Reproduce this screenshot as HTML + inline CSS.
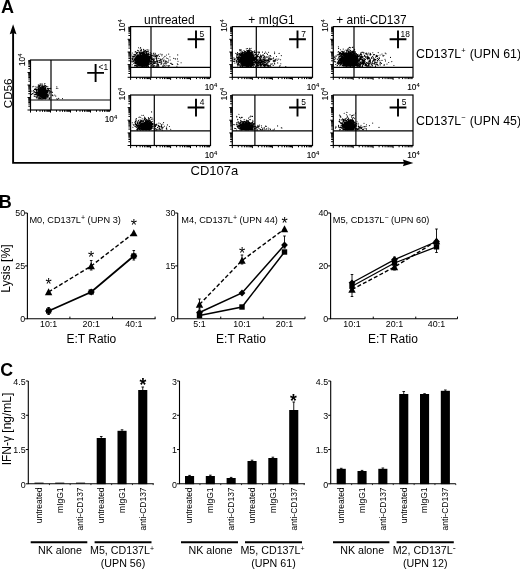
<!DOCTYPE html>
<html><head><meta charset="utf-8"><title>Figure</title>
<style>html,body{margin:0;padding:0;background:#fff}svg{display:block}svg text{font-family:"Liberation Sans",sans-serif}</style>
</head><body>
<svg width="520" height="570" viewBox="0 0 520 570" fill="#000">
<rect width="520" height="570" fill="#fff"/>
<text x="0.9" y="12.7" font-size="18" text-anchor="start" font-weight="bold" >A</text>
<path d="M13.1 33V162.9H404" stroke="#000" stroke-width="1.9" fill="none"/>
<path d="M13.1 24.3l3.4 10l-3.4 -1.2l-3.4 1.2z" fill="#000"/>
<path d="M413.4 162.9l-10.5 3.4l1.2 -3.4l-1.2 -3.4z" fill="#000"/>
<text transform="translate(11.8,93.3) rotate(-90)" font-size="11.6" text-anchor="middle" font-weight="normal">CD56</text>
<text x="190.5" y="175.1" font-size="13" text-anchor="start" font-weight="normal" >CD107a</text>
<rect x="30.5" y="60" width="80.0" height="50" fill="none" stroke="#000" stroke-width="1.2"/>
<path d="M51 60V110M30.5 100H110.5" stroke="#000" stroke-width="1.2" fill="none"/>
<path d="M30.5 110v2.6M30.5 110.0h-3.0M36.5 110v1.8M30.5 106.2h-2.2M40.0 110v1.8M30.5 104.0h-2.2M42.5 110v1.8M30.5 102.5h-2.2M44.5 110v1.8M30.5 101.3h-2.2M46.1 110v1.8M30.5 100.3h-2.2M47.4 110v1.8M30.5 99.4h-2.2M48.6 110v1.8M30.5 98.7h-2.2M49.6 110v1.8M30.5 98.1h-2.2M50.5 110v2.6M30.5 97.5h-3.0M56.5 110v1.8M30.5 93.7h-2.2M60.0 110v1.8M30.5 91.5h-2.2M62.5 110v1.8M30.5 90.0h-2.2M64.5 110v1.8M30.5 88.8h-2.2M66.1 110v1.8M30.5 87.8h-2.2M67.4 110v1.8M30.5 86.9h-2.2M68.6 110v1.8M30.5 86.2h-2.2M69.6 110v1.8M30.5 85.6h-2.2M70.5 110v2.6M30.5 85.0h-3.0M76.5 110v1.8M30.5 81.2h-2.2M80.0 110v1.8M30.5 79.0h-2.2M82.5 110v1.8M30.5 77.5h-2.2M84.5 110v1.8M30.5 76.3h-2.2M86.1 110v1.8M30.5 75.3h-2.2M87.4 110v1.8M30.5 74.4h-2.2M88.6 110v1.8M30.5 73.7h-2.2M89.6 110v1.8M30.5 73.1h-2.2M90.5 110v2.6M30.5 72.5h-3.0M96.5 110v1.8M30.5 68.7h-2.2M100.0 110v1.8M30.5 66.5h-2.2M102.5 110v1.8M30.5 65.0h-2.2M104.5 110v1.8M30.5 63.8h-2.2M106.1 110v1.8M30.5 62.8h-2.2M107.4 110v1.8M30.5 61.9h-2.2M108.6 110v1.8M30.5 61.2h-2.2M109.6 110v1.8M30.5 60.6h-2.2" stroke="#000" stroke-width="1" fill="none"/>
<path d="M38.4 93.8h.01M45.9 90.8h.01M38.0 92.4h.01M44.5 96.0h.01M38.5 88.0h.01M47.4 95.6h.01M50.3 91.6h.01M40.1 88.5h.01M46.2 93.2h.01M36.2 94.8h.01M37.7 92.0h.01M37.5 92.6h.01M40.2 93.3h.01M52.3 92.4h.01M45.5 87.9h.01M43.5 89.0h.01M44.8 89.7h.01M48.4 90.8h.01M45.8 90.4h.01M46.7 94.5h.01M47.7 91.3h.01M39.2 91.2h.01M44.8 97.3h.01M45.9 95.9h.01M45.3 94.8h.01M48.1 91.4h.01M40.5 98.7h.01M43.9 95.6h.01M45.6 88.5h.01M49.9 98.1h.01M43.6 89.4h.01M46.3 94.8h.01M43.4 96.8h.01M40.2 95.0h.01M46.3 91.6h.01M36.2 89.4h.01M47.5 89.0h.01M42.6 84.1h.01M45.4 98.2h.01M39.6 91.1h.01M43.8 98.6h.01M43.5 97.4h.01M42.9 98.3h.01M40.5 90.9h.01M45.2 97.0h.01M36.1 90.1h.01M40.8 90.7h.01M44.4 95.2h.01M37.9 97.6h.01M47.2 92.0h.01M41.3 88.2h.01M49.2 93.4h.01M40.2 83.9h.01M47.1 93.2h.01M36.9 93.2h.01M36.9 98.1h.01M34.9 92.1h.01M37.1 94.4h.01M34.9 89.4h.01M46.6 97.7h.01M38.6 87.1h.01M45.6 95.2h.01M39.4 90.1h.01M40.5 88.3h.01M40.5 96.5h.01M45.1 98.9h.01M39.4 92.2h.01M38.1 86.2h.01M45.1 97.0h.01M45.5 96.7h.01M38.9 86.5h.01M37.4 92.6h.01M47.1 93.2h.01M44.8 96.4h.01M40.0 85.6h.01M45.3 90.1h.01M46.8 93.6h.01M46.0 95.0h.01M35.1 94.8h.01M40.6 89.9h.01M41.5 95.0h.01M45.6 95.7h.01M36.7 90.5h.01M33.9 92.2h.01M44.9 89.9h.01M46.0 89.7h.01M40.0 89.9h.01M48.0 96.0h.01M38.3 90.3h.01M47.8 94.3h.01M40.1 89.0h.01M39.1 95.3h.01M34.0 91.6h.01M40.8 90.4h.01M43.5 96.1h.01M45.7 91.2h.01M38.7 88.1h.01M38.9 87.6h.01M46.2 93.7h.01M42.3 97.1h.01M40.6 94.9h.01M45.4 87.1h.01M37.1 89.3h.01M45.7 96.6h.01M38.4 95.8h.01M36.1 89.0h.01M38.4 94.1h.01M49.0 98.9h.01M36.5 91.1h.01M39.5 98.7h.01M44.8 90.0h.01M45.8 94.3h.01M36.9 90.7h.01M39.7 97.3h.01M37.0 92.0h.01M45.5 88.0h.01M46.2 91.2h.01M43.8 96.3h.01M41.6 97.4h.01M40.2 89.3h.01M45.2 88.8h.01M41.8 95.4h.01M46.5 86.3h.01M44.6 98.4h.01M46.5 91.7h.01M38.7 91.7h.01M46.5 91.8h.01M37.5 95.8h.01M39.0 91.0h.01M39.3 91.7h.01M49.2 90.4h.01M42.7 96.1h.01M45.3 95.0h.01M45.6 85.6h.01M39.8 93.0h.01M44.6 96.6h.01M41.9 89.7h.01M39.9 96.0h.01M46.7 95.7h.01M45.6 95.2h.01M39.1 91.9h.01M40.3 94.8h.01M44.3 96.8h.01M40.1 89.2h.01M45.5 88.6h.01M42.8 86.1h.01M39.7 99.0h.01M45.2 98.8h.01M47.6 92.5h.01M39.7 93.0h.01M41.2 88.1h.01M45.6 94.7h.01M43.4 89.4h.01M35.4 94.1h.01M42.8 86.6h.01M43.0 87.2h.01M43.7 88.5h.01M44.9 97.6h.01M33.2 93.8h.01M42.4 98.3h.01M36.8 93.8h.01M41.2 95.7h.01M39.1 92.2h.01M40.9 86.0h.01M44.5 95.7h.01M42.9 89.0h.01M47.1 88.6h.01M41.0 85.8h.01M40.5 90.0h.01M39.5 90.1h.01M48.2 91.9h.01M42.8 99.1h.01M36.4 93.8h.01M39.5 97.7h.01M38.3 90.5h.01M36.9 92.9h.01M39.2 92.4h.01M45.8 95.5h.01M43.4 89.4h.01M39.0 93.4h.01M49.8 91.0h.01M40.1 90.1h.01M38.9 89.1h.01M42.4 97.0h.01M36.9 93.3h.01M43.1 88.2h.01M39.0 92.4h.01M46.0 94.5h.01M49.2 88.6h.01M41.8 96.5h.01M42.2 97.0h.01M41.8 87.7h.01M39.4 98.6h.01M44.9 95.5h.01M44.8 95.8h.01M45.9 91.3h.01M38.0 91.8h.01M40.4 88.8h.01M41.9 97.4h.01M45.8 96.9h.01M36.8 96.8h.01M49.8 92.0h.01M48.6 95.6h.01M39.2 94.1h.01M34.1 91.4h.01M42.5 88.6h.01M48.2 91.7h.01M40.1 89.8h.01M37.8 94.2h.01M40.3 93.3h.01M39.7 90.8h.01M43.8 88.3h.01M50.0 92.5h.01M47.6 96.9h.01M44.0 87.7h.01M41.2 88.4h.01M38.6 89.8h.01M43.3 97.4h.01M39.2 93.7h.01M46.1 91.4h.01M42.8 96.6h.01M45.3 87.8h.01M41.5 89.7h.01M35.8 94.0h.01M38.1 92.9h.01M40.5 90.1h.01M39.7 86.5h.01M33.6 90.5h.01M46.3 92.4h.01M34.4 89.5h.01M44.4 97.8h.01M46.4 93.7h.01M43.7 88.8h.01M40.2 92.8h.01M47.2 94.9h.01M37.3 92.2h.01M44.7 89.0h.01M46.7 91.4h.01M38.3 99.0h.01M38.7 95.4h.01M40.1 91.1h.01M45.7 98.6h.01M39.9 92.6h.01M45.8 90.3h.01M45.2 89.8h.01M46.5 93.7h.01M38.5 94.7h.01M38.9 94.9h.01M47.4 94.4h.01M41.0 96.3h.01M43.7 88.1h.01M41.8 97.0h.01M41.9 86.6h.01M34.9 96.4h.01M45.2 95.8h.01M46.8 91.0h.01M47.8 86.6h.01M44.7 97.1h.01M42.0 88.2h.01M37.2 95.3h.01M41.2 94.7h.01M38.1 96.0h.01M37.6 95.9h.01M36.1 96.9h.01M41.7 87.0h.01M39.3 90.8h.01M31.9 91.1h.01M44.0 95.7h.01M40.5 98.4h.01M44.1 96.0h.01M40.8 95.8h.01M44.4 85.8h.01M38.9 94.0h.01M47.6 90.5h.01M45.3 95.0h.01M47.3 90.9h.01M46.4 94.0h.01M39.1 92.1h.01M49.0 95.0h.01M41.4 84.0h.01M40.3 90.1h.01M43.4 98.5h.01M44.1 89.3h.01M38.6 91.9h.01M41.4 98.8h.01M40.8 96.1h.01M43.4 88.2h.01M46.8 91.5h.01M38.0 93.6h.01M45.1 95.1h.01M39.8 85.2h.01M33.9 92.1h.01M46.6 95.7h.01M47.0 98.3h.01M43.2 95.9h.01M37.2 94.7h.01M41.5 88.6h.01M43.6 96.5h.01M39.3 93.8h.01M40.8 88.4h.01M41.9 95.8h.01M47.6 91.4h.01M45.4 94.9h.01M44.3 87.1h.01M44.1 89.1h.01M46.4 95.0h.01M44.9 83.5h.01M38.2 95.6h.01M40.4 89.0h.01M41.5 99.0h.01M40.8 90.6h.01M39.7 95.3h.01M42.1 95.3h.01M38.7 95.5h.01M42.8 89.4h.01M46.5 91.0h.01M42.6 89.4h.01M40.5 87.6h.01M44.4 95.4h.01M45.1 88.5h.01M45.8 90.8h.01M37.6 92.2h.01M43.7 86.0h.01M40.6 94.4h.01M38.3 95.4h.01M48.0 91.9h.01M40.3 88.5h.01M40.1 96.3h.01M36.3 92.2h.01M44.9 88.2h.01M45.8 97.0h.01M46.1 90.0h.01M40.4 95.5h.01M45.9 96.4h.01M46.5 92.2h.01M41.6 86.0h.01M45.4 98.7h.01M44.2 87.7h.01M40.4 88.7h.01M48.8 90.0h.01M45.6 98.5h.01M48.4 97.0h.01M47.7 88.2h.01M41.9 90.0h.01M42.1 97.5h.01M44.7 88.2h.01M46.9 96.6h.01M41.2 99.0h.01M43.4 96.6h.01M49.7 91.9h.01M41.4 90.0h.01M40.2 87.5h.01M39.4 95.4h.01M44.2 95.9h.01M44.9 95.0h.01M40.2 92.3h.01M40.0 91.3h.01M46.8 91.4h.01M39.3 93.2h.01M39.0 88.8h.01M43.4 86.6h.01M32.5 93.5h.01M36.7 89.4h.01M44.8 85.5h.01M39.8 88.3h.01M42.4 85.5h.01M34.9 92.1h.01M38.0 92.6h.01M39.9 91.5h.01M45.3 89.0h.01M43.1 97.1h.01M44.6 90.0h.01M44.2 97.8h.01M39.2 86.4h.01M37.0 95.2h.01M44.0 97.6h.01M35.5 89.5h.01M47.2 95.8h.01M45.6 95.3h.01M47.2 88.6h.01M40.3 94.3h.01M49.0 93.9h.01M41.6 96.0h.01M50.2 88.6h.01M40.7 98.7h.01M40.1 90.4h.01M43.5 96.9h.01M44.4 96.8h.01M45.2 98.5h.01M42.7 89.5h.01M47.7 88.4h.01M40.1 84.7h.01M39.7 87.2h.01M39.2 95.9h.01M46.0 89.4h.01M46.9 90.2h.01M42.3 97.0h.01M49.9 97.3h.01M38.8 94.0h.01M40.6 90.9h.01M43.2 98.2h.01M42.3 96.4h.01M45.5 98.7h.01M36.9 93.8h.01M36.5 97.3h.01M37.9 90.8h.01M39.6 96.1h.01M43.9 88.4h.01M35.7 92.4h.01M41.3 88.6h.01M36.9 94.5h.01M44.3 86.4h.01M43.5 96.2h.01M43.9 96.6h.01M38.1 89.4h.01M36.1 89.4h.01M46.4 93.0h.01M39.3 93.9h.01M42.6 98.1h.01M48.6 95.6h.01M38.8 90.7h.01M39.8 89.6h.01M42.7 96.7h.01M47.5 95.6h.01M45.5 96.6h.01M45.6 87.1h.01M45.8 93.8h.01M36.6 92.9h.01M37.0 94.0h.01M40.6 94.2h.01M52.2 94.8h.01M43.6 86.8h.01M40.5 91.7h.01M34.4 94.3h.01M40.9 94.7h.01M47.0 92.0h.01M39.9 96.6h.01M45.6 89.0h.01M45.5 90.0h.01M37.3 96.3h.01M38.2 96.3h.01M44.6 96.2h.01M43.9 96.0h.01M41.7 95.7h.01M47.4 92.4h.01M41.9 89.4h.01M36.3 97.0h.01M43.6 86.9h.01M41.5 95.3h.01M48.2 95.8h.01M40.2 97.3h.01M41.6 95.6h.01M42.3 87.4h.01M42.0 97.4h.01M40.0 94.3h.01M42.3 95.3h.01M47.1 93.3h.01M36.7 90.0h.01M39.0 85.6h.01M44.1 97.2h.01M38.3 84.9h.01M39.7 94.0h.01M41.0 95.8h.01M39.6 94.6h.01M45.2 96.6h.01M41.0 95.3h.01M45.3 95.9h.01M41.7 88.3h.01M40.3 94.5h.01M45.8 93.8h.01M46.2 93.8h.01M39.4 90.5h.01M46.0 89.7h.01M42.8 97.2h.01M44.4 95.8h.01M35.9 86.7h.01M39.9 95.7h.01M47.6 90.4h.01M39.4 89.0h.01M39.8 94.3h.01M42.0 98.3h.01M45.2 90.2h.01M45.4 95.4h.01M41.9 95.3h.01M46.7 92.6h.01M37.6 92.8h.01M38.0 91.1h.01M36.4 90.1h.01M38.6 97.9h.01M40.8 97.1h.01M41.2 87.5h.01M48.2 91.1h.01M45.3 96.2h.01M38.2 92.8h.01M41.0 94.5h.01M43.2 88.2h.01M46.7 95.5h.01M45.5 94.8h.01M43.6 88.5h.01M46.1 97.9h.01M43.1 96.3h.01M44.0 89.2h.01M42.5 89.5h.01M39.9 97.1h.01M46.1 87.0h.01M39.5 91.1h.01M41.7 87.8h.01M45.6 87.0h.01M35.2 88.2h.01M41.6 89.2h.01M40.5 90.0h.01M50.8 88.2h.01M47.4 94.1h.01M41.8 97.5h.01M38.9 91.5h.01M40.9 94.5h.01M44.8 86.1h.01M42.4 95.6h.01M38.3 88.5h.01M41.5 88.4h.01M41.0 90.6h.01M43.6 96.1h.01M32.1 93.7h.01M48.5 88.9h.01M39.5 96.3h.01M44.4 89.8h.01M38.7 91.2h.01M49.6 99.1h.01M33.8 86.3h.01M40.8 94.5h.01M43.9 88.8h.01M46.8 91.0h.01M46.3 94.7h.01M43.1 86.2h.01M37.1 87.4h.01M46.1 95.1h.01M37.3 94.0h.01M43.0 95.6h.01M40.4 93.2h.01M41.9 90.0h.01M44.9 89.0h.01M37.3 89.2h.01M46.2 90.8h.01M45.0 94.9h.01M41.3 94.9h.01M38.3 91.7h.01M45.6 96.2h.01M44.6 84.0h.01M48.7 90.0h.01M47.4 97.3h.01M34.1 96.0h.01M43.7 95.7h.01M42.3 97.2h.01M40.7 90.0h.01M37.1 87.6h.01M45.6 88.7h.01M38.2 92.5h.01M47.2 96.5h.01M41.6 88.9h.01M41.1 89.4h.01M39.1 89.8h.01M40.2 89.8h.01M38.8 89.9h.01M31.6 94.5h.01M39.8 91.7h.01M32.7 86.7h.01M49.1 98.5h.01M38.4 98.0h.01M40.4 93.7h.01M38.7 93.7h.01M43.1 95.9h.01M38.7 92.6h.01M48.2 88.4h.01M47.1 96.1h.01M38.8 92.9h.01M58.7 98.4h.01M56.8 86.8h.01M51.7 91.9h.01M52.3 95.5h.01M54.8 95.0h.01M56.4 88.3h.01M53.0 95.8h.01M57.4 99.2h.01M57.8 88.2h.01M62.5 98.6h.01M56.8 98.8h.01M55.8 96.1h.01" stroke="#000" stroke-width="1.1" stroke-linecap="round" fill="none" opacity="1"/>
<ellipse cx="43.2" cy="92.6" rx="3.6" ry="3.6" fill="#000" opacity="1.0"/>
<path d="M87.19999999999999 72.9h16.8M95.6 64.10000000000001v17.8" stroke="#000" stroke-width="1.9" fill="none"/>
<text x="98.5" y="70.2" font-size="8.4" text-anchor="start" font-weight="normal" >&lt;1</text>
<text x="104.7" y="122.2" font-size="8.3" stroke="#000" stroke-width="0.12">10<tspan font-size="5.8" dy="-3">4</tspan></text>
<text transform="translate(24.9,66.0) rotate(-90)" font-size="8.3" stroke="#000" stroke-width="0.12">10<tspan font-size="5.8" dy="-3">4</tspan></text>
<rect x="130.6" y="26.6" width="79.9" height="50.699999999999996" fill="none" stroke="#000" stroke-width="1.2"/>
<path d="M151 26.6V77.3M130.6 67.3H210.5" stroke="#000" stroke-width="1.2" fill="none"/>
<path d="M130.6 77.3v2.6M130.6 77.3h-3.0M136.6 77.3v1.8M130.6 73.5h-2.2M140.1 77.3v1.8M130.6 71.3h-2.2M142.6 77.3v1.8M130.6 69.7h-2.2M144.6 77.3v1.8M130.6 68.4h-2.2M146.1 77.3v1.8M130.6 67.4h-2.2M147.5 77.3v1.8M130.6 66.6h-2.2M148.6 77.3v1.8M130.6 65.9h-2.2M149.7 77.3v1.8M130.6 65.2h-2.2M150.6 77.3v2.6M130.6 64.6h-3.0M156.6 77.3v1.8M130.6 60.8h-2.2M160.1 77.3v1.8M130.6 58.6h-2.2M162.6 77.3v1.8M130.6 57.0h-2.2M164.5 77.3v1.8M130.6 55.8h-2.2M166.1 77.3v1.8M130.6 54.8h-2.2M167.5 77.3v1.8M130.6 53.9h-2.2M168.6 77.3v1.8M130.6 53.2h-2.2M169.6 77.3v1.8M130.6 52.5h-2.2M170.6 77.3v2.6M130.6 52.0h-3.0M176.6 77.3v1.8M130.6 48.1h-2.2M180.1 77.3v1.8M130.6 45.9h-2.2M182.6 77.3v1.8M130.6 44.3h-2.2M184.5 77.3v1.8M130.6 43.1h-2.2M186.1 77.3v1.8M130.6 42.1h-2.2M187.4 77.3v1.8M130.6 41.2h-2.2M188.6 77.3v1.8M130.6 40.5h-2.2M189.6 77.3v1.8M130.6 39.9h-2.2M190.5 77.3v2.6M130.6 39.3h-3.0M196.5 77.3v1.8M130.6 35.5h-2.2M200.1 77.3v1.8M130.6 33.2h-2.2M202.6 77.3v1.8M130.6 31.6h-2.2M204.5 77.3v1.8M130.6 30.4h-2.2M206.1 77.3v1.8M130.6 29.4h-2.2M207.4 77.3v1.8M130.6 28.6h-2.2M208.6 77.3v1.8M130.6 27.8h-2.2M209.6 77.3v1.8M130.6 27.2h-2.2" stroke="#000" stroke-width="1" fill="none"/>
<path d="M140.6 55.3h.01M138.5 60.9h.01M144.5 63.8h.01M145.0 64.6h.01M146.9 53.8h.01M146.0 56.4h.01M145.2 51.2h.01M149.7 58.2h.01M149.5 58.0h.01M138.8 62.6h.01M137.1 58.5h.01M144.6 51.4h.01M148.1 58.5h.01M135.3 56.0h.01M140.2 65.2h.01M147.3 62.3h.01M144.9 55.7h.01M139.6 65.9h.01M136.6 64.2h.01M137.8 66.0h.01M145.5 55.2h.01M138.5 47.8h.01M137.9 62.5h.01M145.2 66.3h.01M147.4 55.5h.01M138.1 59.7h.01M149.2 59.0h.01M135.5 62.4h.01M145.8 66.0h.01M143.9 66.1h.01M143.8 55.4h.01M142.0 64.0h.01M146.9 62.7h.01M146.8 56.0h.01M141.2 63.6h.01M142.3 55.6h.01M145.8 65.1h.01M134.4 59.3h.01M148.2 59.2h.01M136.1 61.9h.01M151.3 55.4h.01M136.4 62.9h.01M144.5 65.2h.01M148.0 57.8h.01M146.6 55.5h.01M135.5 63.6h.01M141.3 51.9h.01M144.8 65.5h.01M138.0 63.0h.01M143.2 52.1h.01M136.9 56.5h.01M145.3 56.1h.01M146.8 53.8h.01M138.7 61.8h.01M148.1 65.0h.01M139.8 65.1h.01M144.4 54.7h.01M148.4 61.7h.01M133.4 57.1h.01M148.2 57.4h.01M137.7 50.4h.01M138.7 60.9h.01M147.9 63.8h.01M140.4 55.8h.01M139.1 64.4h.01M146.5 53.0h.01M141.3 64.4h.01M147.9 58.9h.01M134.0 54.3h.01M143.5 55.0h.01M146.9 63.9h.01M145.9 56.1h.01M140.3 56.2h.01M139.7 56.2h.01M148.5 57.3h.01M141.7 65.2h.01M145.7 55.7h.01M146.9 55.2h.01M145.1 50.6h.01M138.8 62.7h.01M149.2 64.5h.01M144.4 55.6h.01M144.9 64.9h.01M137.3 65.5h.01M137.2 58.5h.01M139.3 64.6h.01M149.5 59.4h.01M141.4 63.7h.01M136.4 56.3h.01M137.7 55.4h.01M134.7 60.2h.01M139.8 65.7h.01M138.1 64.0h.01M138.2 63.5h.01M144.2 64.7h.01M148.2 59.0h.01M141.8 63.8h.01M144.1 64.5h.01M137.0 58.4h.01M138.7 58.3h.01M143.4 55.2h.01M147.6 65.5h.01M150.3 57.2h.01M148.1 53.2h.01M137.5 56.8h.01M138.5 56.5h.01M131.8 58.7h.01M148.8 53.1h.01M145.7 54.9h.01M137.3 59.2h.01M143.6 53.2h.01M145.7 50.3h.01M148.8 60.3h.01M142.8 63.9h.01M144.0 66.2h.01M143.6 64.4h.01M143.0 66.2h.01M142.3 54.4h.01M144.3 55.4h.01M148.1 62.3h.01M132.2 64.7h.01M145.5 64.9h.01M144.7 53.7h.01M139.1 64.5h.01M137.1 56.5h.01M135.0 60.7h.01M145.1 66.0h.01M150.5 57.7h.01M137.5 65.9h.01M146.5 63.7h.01M146.5 63.4h.01M147.1 55.9h.01M141.7 65.9h.01M146.1 55.2h.01M137.7 61.0h.01M148.4 63.1h.01M131.9 55.0h.01M146.1 66.3h.01M138.7 61.6h.01M149.0 54.5h.01M140.3 54.8h.01M139.3 55.9h.01M141.6 65.4h.01M141.5 49.3h.01M146.7 51.6h.01M147.5 57.1h.01M139.6 62.9h.01M145.3 54.6h.01M136.1 59.6h.01M150.3 56.0h.01M143.2 51.6h.01M139.6 55.6h.01M149.3 56.5h.01M136.2 66.2h.01M140.1 53.8h.01M141.3 53.4h.01M143.6 65.3h.01M148.1 53.7h.01M136.9 63.9h.01M140.6 64.1h.01M145.2 64.7h.01M145.2 64.2h.01M143.8 49.3h.01M147.0 55.2h.01M144.7 52.6h.01M133.4 56.1h.01M139.9 56.6h.01M138.8 54.6h.01M141.4 55.7h.01M145.1 64.0h.01M139.1 51.8h.01M138.2 66.1h.01M148.7 58.3h.01M138.1 59.2h.01M149.6 61.2h.01M138.3 58.9h.01M144.6 63.7h.01M139.9 62.8h.01M147.7 58.2h.01M137.0 61.7h.01M143.6 55.2h.01M136.5 53.2h.01M132.2 56.6h.01M148.4 59.3h.01M136.8 58.7h.01M138.5 58.2h.01M143.9 50.9h.01M138.7 62.1h.01M145.7 54.4h.01M140.0 55.5h.01M137.6 64.5h.01M143.6 65.7h.01M140.7 55.0h.01M143.7 55.6h.01M151.8 61.7h.01M149.7 56.1h.01M143.0 53.7h.01M149.0 58.8h.01M138.5 57.2h.01M148.5 55.9h.01M139.9 54.3h.01M148.1 65.2h.01M142.1 55.4h.01M132.3 56.8h.01M137.7 54.9h.01M148.8 50.0h.01M140.2 56.7h.01M147.6 63.0h.01M141.2 50.5h.01M149.4 62.1h.01M150.0 63.7h.01M135.5 56.0h.01M135.8 59.7h.01M137.3 59.7h.01M148.3 55.6h.01M132.2 59.1h.01M147.4 55.6h.01M147.2 63.4h.01M149.0 58.0h.01M140.2 48.8h.01M140.7 51.7h.01M138.5 56.1h.01M147.7 62.2h.01M136.8 61.3h.01M145.5 64.9h.01M135.7 59.8h.01M136.1 59.4h.01M135.1 61.0h.01M148.2 58.8h.01M143.8 53.6h.01M145.4 55.3h.01M147.7 64.5h.01M150.1 57.7h.01M146.2 53.6h.01M145.8 63.9h.01M140.2 64.5h.01M137.1 60.2h.01M148.4 64.4h.01M144.8 65.4h.01M145.7 55.2h.01M143.8 53.5h.01M150.7 54.0h.01M138.0 61.1h.01M143.9 64.6h.01M137.2 58.0h.01M139.1 56.7h.01M138.3 56.0h.01M138.6 58.3h.01M138.3 56.7h.01M145.0 55.7h.01M143.2 55.4h.01M133.9 59.9h.01M137.2 59.3h.01M145.4 63.8h.01M136.9 57.5h.01M136.9 59.7h.01M138.3 56.1h.01M145.8 64.4h.01M148.6 56.4h.01M133.3 56.5h.01M136.2 61.9h.01M138.3 57.2h.01M147.2 56.6h.01M137.6 57.4h.01M148.2 62.1h.01M137.5 66.1h.01M136.6 59.9h.01M141.7 65.3h.01M143.7 50.8h.01M138.6 60.7h.01M140.5 50.3h.01M145.9 63.9h.01M137.4 64.4h.01M138.1 63.2h.01M144.9 53.1h.01M137.7 61.4h.01M146.7 53.6h.01M148.1 65.3h.01M143.7 52.9h.01M144.6 55.4h.01M138.1 60.1h.01M136.0 65.4h.01M138.2 60.5h.01M146.7 56.2h.01M139.4 56.3h.01M142.4 55.6h.01M146.7 55.9h.01M135.3 57.2h.01M133.4 61.0h.01M146.3 63.0h.01M137.1 66.5h.01M149.2 59.4h.01M134.2 56.6h.01M146.7 66.3h.01M140.8 53.1h.01M138.8 65.8h.01M143.2 54.7h.01M133.7 61.8h.01M146.6 65.6h.01M132.8 59.5h.01M153.1 58.9h.01M140.1 54.0h.01M143.9 64.4h.01M134.9 57.0h.01M138.2 59.0h.01M131.7 61.1h.01M137.4 55.5h.01M132.7 61.1h.01M137.1 53.0h.01M142.8 54.4h.01M138.2 58.8h.01M136.8 62.8h.01M139.4 53.5h.01M138.8 55.4h.01M132.2 58.4h.01M148.7 57.1h.01M139.5 63.4h.01M147.7 55.5h.01M143.9 55.5h.01M139.0 65.4h.01M146.8 53.3h.01M143.0 53.4h.01M147.8 56.2h.01M146.0 54.9h.01M138.7 56.9h.01M144.2 54.7h.01M148.3 59.9h.01M144.6 63.8h.01M138.5 64.1h.01M139.1 64.3h.01M138.6 60.1h.01M150.1 61.0h.01M147.8 66.2h.01M146.6 63.9h.01M148.0 64.4h.01M138.7 63.4h.01M146.4 65.8h.01M135.6 57.8h.01M136.4 58.0h.01M138.6 57.7h.01M144.8 64.0h.01M146.9 55.7h.01M137.1 65.7h.01M134.9 55.4h.01M136.6 56.7h.01M135.4 55.9h.01M146.1 64.3h.01M148.7 60.8h.01M149.8 57.3h.01M142.2 55.6h.01M137.0 58.7h.01M137.3 63.2h.01M144.0 53.9h.01M150.2 54.6h.01M148.9 62.6h.01M138.9 63.8h.01M147.5 63.2h.01M144.3 63.9h.01M143.0 66.1h.01M136.4 60.0h.01M136.7 53.6h.01M141.0 56.1h.01M142.4 54.1h.01M137.8 61.2h.01M135.0 61.3h.01M139.3 63.0h.01M136.5 63.7h.01M143.3 65.2h.01M137.2 57.9h.01M139.2 57.4h.01M144.9 55.1h.01M142.1 66.4h.01M146.6 64.7h.01M143.5 53.1h.01M144.1 66.5h.01M143.6 64.3h.01M141.8 53.6h.01M138.7 61.1h.01M136.6 61.1h.01M149.1 57.3h.01M148.8 60.3h.01M143.9 64.8h.01M143.9 53.9h.01M146.0 52.2h.01M134.0 54.4h.01M145.9 55.2h.01M145.3 66.2h.01M143.4 64.9h.01M138.4 61.9h.01M138.5 62.2h.01M138.1 61.1h.01M144.2 55.3h.01M143.3 55.5h.01M144.9 53.1h.01M147.4 56.2h.01M141.0 56.2h.01M137.4 58.8h.01M135.0 58.7h.01M143.4 54.8h.01M135.2 55.2h.01M135.4 65.2h.01M146.6 63.9h.01M135.9 60.2h.01M140.0 65.9h.01M142.3 52.4h.01M147.7 62.2h.01M149.0 54.2h.01M142.3 64.4h.01M138.9 61.7h.01M137.7 61.5h.01M150.3 56.7h.01M148.4 56.1h.01M137.0 60.9h.01M144.6 64.7h.01M144.9 52.3h.01M151.7 57.8h.01M142.2 55.8h.01M143.1 53.6h.01M136.7 59.0h.01M140.4 63.8h.01M148.5 66.4h.01M151.0 57.6h.01M148.8 56.6h.01M146.8 54.3h.01M142.3 52.9h.01M148.1 61.7h.01M133.7 60.3h.01M140.3 55.0h.01M147.5 56.4h.01M140.9 55.7h.01M137.2 62.2h.01M147.4 57.0h.01M149.7 60.6h.01M137.6 56.1h.01M139.1 52.6h.01M140.2 55.5h.01M146.2 51.2h.01M147.1 49.6h.01M138.4 56.4h.01M146.2 56.0h.01M145.5 55.4h.01M146.6 54.8h.01M134.8 65.9h.01M146.4 54.0h.01M146.0 54.5h.01M150.8 61.1h.01M149.8 58.7h.01M146.9 57.0h.01M136.1 58.3h.01M137.5 63.2h.01M137.7 61.4h.01M134.6 65.2h.01M146.8 56.3h.01M138.9 65.3h.01M149.7 56.9h.01M142.8 64.0h.01M147.5 57.5h.01M147.6 64.8h.01M148.9 54.5h.01M143.1 65.6h.01M142.2 55.5h.01M149.0 59.8h.01M149.6 62.2h.01M144.9 55.9h.01M133.1 58.5h.01M142.0 54.2h.01M139.6 64.5h.01M141.1 66.2h.01M138.7 64.2h.01M151.6 59.9h.01M143.4 49.5h.01M138.5 56.5h.01M138.5 59.9h.01M135.7 65.5h.01M140.0 65.2h.01M140.0 53.5h.01M148.0 64.5h.01M138.1 58.7h.01M142.9 54.4h.01M148.5 62.2h.01M144.4 66.0h.01M145.0 55.2h.01M143.0 53.6h.01M149.3 59.9h.01M142.9 55.6h.01M132.5 58.9h.01M147.3 63.9h.01M143.8 65.1h.01M148.5 63.6h.01M135.7 51.7h.01M149.2 62.2h.01M147.9 61.8h.01M143.3 64.7h.01M146.2 56.6h.01M140.1 63.2h.01M144.6 55.5h.01M135.2 61.5h.01M146.3 66.0h.01M135.8 51.8h.01M135.9 60.6h.01M138.2 62.4h.01M143.0 53.2h.01M146.0 65.0h.01M141.8 65.1h.01M136.3 59.1h.01M147.7 64.1h.01M146.6 63.0h.01M136.5 61.9h.01M137.6 58.1h.01M137.8 62.5h.01M138.2 56.7h.01M138.2 61.8h.01M143.9 53.4h.01M145.9 63.7h.01M143.9 65.4h.01M141.4 63.9h.01M147.8 64.2h.01M148.6 59.4h.01M149.8 56.5h.01M134.6 54.7h.01M149.9 57.4h.01M141.1 64.2h.01M146.6 63.1h.01M146.3 65.2h.01M139.8 64.3h.01M132.3 53.0h.01M136.8 56.4h.01M141.8 55.2h.01M136.2 59.3h.01M143.8 53.4h.01M145.8 55.6h.01M138.1 57.3h.01M145.7 65.5h.01M136.1 58.5h.01M147.4 55.8h.01M148.4 61.7h.01M138.5 56.9h.01M140.8 54.4h.01M148.4 51.3h.01M137.0 56.4h.01M139.6 57.1h.01M136.1 62.9h.01M150.7 63.4h.01M142.7 64.2h.01M144.2 64.0h.01M137.1 60.5h.01M138.5 59.6h.01M137.1 56.8h.01M139.0 57.5h.01M138.2 63.8h.01M138.7 63.3h.01M140.6 47.6h.01M141.6 65.1h.01M146.7 66.4h.01M140.0 56.7h.01M134.7 62.1h.01M137.6 60.5h.01M144.4 55.1h.01M138.3 65.9h.01M141.2 52.8h.01M140.6 64.1h.01M135.4 60.5h.01M152.1 56.7h.01M148.4 54.7h.01M149.7 59.1h.01M149.8 56.4h.01M140.7 55.4h.01M141.6 64.7h.01M141.0 64.9h.01M134.5 60.0h.01M147.9 58.8h.01M145.9 56.0h.01M147.4 56.9h.01M136.3 59.6h.01M144.0 64.5h.01M136.8 56.7h.01M147.3 62.1h.01M146.2 63.6h.01M138.0 61.1h.01M140.8 53.2h.01M141.0 64.8h.01M138.0 58.3h.01M144.3 55.3h.01M134.7 58.6h.01M139.6 56.4h.01M142.6 55.0h.01M146.8 63.4h.01M137.7 62.7h.01M146.0 63.2h.01M145.0 66.2h.01M148.5 60.2h.01M143.9 65.2h.01M135.1 59.5h.01M138.9 57.1h.01M139.1 57.5h.01M139.4 56.3h.01M145.5 56.1h.01M150.2 52.6h.01M145.9 54.3h.01M141.2 55.5h.01M138.9 56.8h.01M140.2 52.7h.01M138.7 60.9h.01M138.1 55.3h.01M144.0 53.2h.01M141.4 50.2h.01M138.6 60.9h.01M138.1 58.3h.01M150.4 54.2h.01M149.9 60.6h.01M147.8 57.8h.01M146.0 53.6h.01M134.9 60.0h.01M141.7 64.3h.01M137.1 56.8h.01M133.9 63.4h.01M142.3 55.2h.01M134.1 54.5h.01M144.8 64.9h.01M137.1 54.7h.01M138.3 60.4h.01M139.7 63.1h.01M135.9 58.9h.01M135.3 63.7h.01M138.1 56.4h.01M141.1 66.3h.01M138.2 64.7h.01M143.6 66.2h.01M146.1 64.5h.01M146.5 56.3h.01M147.4 51.0h.01M147.1 63.4h.01M138.4 63.6h.01M134.8 62.7h.01M137.9 62.6h.01M147.8 52.0h.01M147.5 57.1h.01M150.8 58.2h.01M145.3 54.5h.01M147.8 54.2h.01M140.6 64.0h.01M138.0 56.3h.01M142.7 65.5h.01M144.3 54.6h.01M147.2 62.4h.01M142.6 66.4h.01M146.7 64.7h.01M136.2 58.2h.01M139.1 57.3h.01M145.5 63.8h.01M136.9 61.5h.01M147.5 63.3h.01M144.1 55.5h.01M151.3 61.6h.01M137.5 61.5h.01M137.7 62.3h.01M139.6 63.6h.01M138.3 61.5h.01M132.9 61.3h.01M138.6 60.9h.01M132.3 57.0h.01M136.4 57.7h.01M137.7 52.7h.01M139.3 57.0h.01M144.4 55.6h.01M145.6 55.2h.01M146.7 66.0h.01M137.9 59.7h.01M151.3 56.2h.01M145.0 63.9h.01M140.4 53.9h.01M139.4 64.4h.01M137.1 63.6h.01M148.5 56.1h.01M138.8 62.5h.01M138.2 60.0h.01M135.8 59.1h.01M139.7 65.3h.01M146.2 66.1h.01M142.9 54.6h.01M146.0 54.5h.01M132.7 59.6h.01M144.1 55.6h.01M137.2 52.4h.01M137.6 58.8h.01M150.1 61.9h.01M140.4 64.0h.01M144.1 53.1h.01M135.4 54.4h.01M145.8 56.0h.01M147.3 56.8h.01M142.0 65.0h.01M134.6 60.1h.01M149.1 60.0h.01M143.6 64.0h.01M139.8 63.4h.01M143.6 55.1h.01M148.6 61.0h.01M135.2 51.9h.01M141.4 65.3h.01M139.6 64.8h.01M139.4 56.6h.01M144.3 64.7h.01M138.4 61.1h.01M142.9 54.6h.01M144.1 66.2h.01M139.7 63.8h.01M148.2 62.7h.01M150.0 56.9h.01M144.0 55.5h.01M144.2 54.8h.01M149.1 64.1h.01M144.1 63.9h.01M136.5 55.8h.01M136.9 65.6h.01M132.1 62.0h.01M137.1 58.3h.01M148.2 60.6h.01M147.3 55.0h.01M141.0 63.7h.01M138.5 56.4h.01M149.0 63.1h.01M149.3 56.3h.01M135.1 59.8h.01M138.7 64.0h.01M147.2 63.1h.01M144.9 55.2h.01M147.7 56.6h.01M140.7 54.2h.01M139.6 52.2h.01M137.7 56.8h.01M137.9 58.4h.01M140.6 64.4h.01M144.4 64.0h.01M137.8 62.7h.01M138.7 50.7h.01M138.5 56.5h.01M137.9 59.7h.01M149.8 59.3h.01M135.6 62.1h.01M139.2 54.1h.01M146.4 52.3h.01M147.3 56.1h.01M135.1 55.8h.01M137.6 55.8h.01M148.0 56.2h.01M138.1 55.6h.01M148.3 58.2h.01M140.0 53.7h.01M135.2 58.4h.01M149.8 60.7h.01M144.1 53.9h.01M147.3 62.0h.01M144.3 55.3h.01M144.6 63.8h.01M136.4 52.7h.01M136.5 53.7h.01M146.4 62.9h.01M137.5 64.4h.01M138.2 56.9h.01M150.2 55.2h.01M144.1 64.6h.01M148.5 61.7h.01M136.9 58.3h.01M135.7 62.7h.01M135.6 62.0h.01M137.4 60.5h.01M145.8 55.0h.01M134.7 59.4h.01M146.5 53.6h.01M147.9 64.4h.01M146.2 65.2h.01M148.4 59.6h.01M151.6 58.5h.01M134.2 60.3h.01M149.3 59.7h.01M143.8 66.3h.01M151.2 61.3h.01M136.1 59.4h.01M137.7 55.4h.01M143.6 65.0h.01M139.1 54.2h.01M164.2 63.0h.01M160.0 60.7h.01M154.1 61.1h.01M151.4 66.0h.01M154.9 61.5h.01M152.5 66.3h.01M155.7 56.4h.01M157.4 64.1h.01M158.6 54.9h.01M157.3 55.4h.01M151.7 63.6h.01M162.6 58.9h.01M152.9 64.7h.01M171.8 64.2h.01M160.9 60.3h.01M155.4 54.9h.01M160.9 59.6h.01M158.8 65.8h.01M176.9 66.2h.01M156.9 60.5h.01M158.4 66.1h.01M154.3 54.9h.01M156.8 65.1h.01M152.9 59.6h.01M153.9 54.9h.01M177.3 63.7h.01M166.4 55.0h.01M154.8 65.3h.01M154.4 66.0h.01M151.9 55.4h.01M162.5 66.1h.01M151.4 59.5h.01M161.6 63.9h.01M169.6 65.7h.01M156.9 65.8h.01M157.7 56.1h.01M173.8 58.4h.01M159.7 62.0h.01M153.9 59.1h.01M164.9 56.4h.01M151.4 53.7h.01M163.7 64.1h.01M153.7 62.3h.01M160.2 59.1h.01M161.1 59.3h.01M168.7 65.6h.01M158.9 60.5h.01M160.8 60.8h.01M161.2 59.9h.01M154.5 59.1h.01M163.8 57.8h.01M158.9 66.3h.01M154.2 63.5h.01M157.5 62.8h.01M165.7 61.5h.01M156.0 66.5h.01M157.9 64.8h.01M169.9 56.8h.01M156.0 58.6h.01M172.7 64.5h.01M156.5 58.7h.01M158.3 64.4h.01M156.3 62.0h.01M166.4 58.0h.01M163.8 61.4h.01M151.2 61.8h.01M155.8 55.1h.01M168.7 54.1h.01M155.0 62.9h.01M160.4 62.3h.01M159.7 60.6h.01M165.7 60.7h.01M153.2 53.7h.01M175.4 58.9h.01M157.2 66.5h.01M155.2 56.8h.01M158.8 58.4h.01M152.4 64.7h.01M153.4 65.9h.01M153.9 53.1h.01M154.2 55.3h.01M151.4 58.5h.01M153.1 61.2h.01M153.8 61.2h.01M155.2 62.7h.01M158.0 65.2h.01M151.9 62.9h.01M170.4 63.2h.01M153.3 63.1h.01M156.6 61.8h.01M152.3 64.8h.01M163.7 65.7h.01M156.4 58.3h.01M153.7 56.1h.01M168.1 61.9h.01M170.2 60.0h.01M162.0 54.4h.01M153.2 60.9h.01M172.0 64.0h.01M154.2 56.7h.01M167.8 58.5h.01M153.7 66.4h.01M151.9 65.3h.01M155.5 61.7h.01M152.4 59.8h.01M159.4 62.5h.01M166.7 63.0h.01M166.2 63.0h.01M153.9 60.3h.01M161.8 63.1h.01M168.3 66.3h.01M168.6 60.0h.01M156.5 56.8h.01M160.2 54.0h.01M154.2 59.2h.01M167.9 62.5h.01M153.9 58.9h.01M161.9 55.7h.01M154.3 63.4h.01M159.4 56.5h.01M163.8 65.9h.01M171.2 63.3h.01M152.9 59.7h.01M164.2 65.2h.01M157.0 58.7h.01M155.2 63.4h.01M158.9 62.2h.01M152.5 61.9h.01M152.4 59.6h.01M177.4 58.9h.01M164.2 60.0h.01M153.1 63.9h.01M161.8 61.7h.01M153.8 62.8h.01M157.8 61.7h.01M153.2 65.3h.01M152.5 55.3h.01M164.9 63.2h.01M157.3 61.1h.01M161.3 61.9h.01M167.0 65.5h.01M156.3 57.2h.01M156.6 55.4h.01M156.7 57.2h.01M158.6 64.2h.01M165.6 62.1h.01M156.6 59.9h.01M177.7 54.9h.01M165.7 66.0h.01M163.3 66.3h.01M178.0 61.2h.01M166.6 61.2h.01M157.2 56.0h.01M157.2 66.1h.01M165.9 64.0h.01M152.1 58.5h.01M156.8 63.6h.01M163.3 60.2h.01M177.9 64.6h.01M155.4 53.3h.01M156.7 61.3h.01M154.2 62.5h.01M160.7 64.0h.01M181.1 62.8h.01M157.5 60.8h.01M158.1 65.0h.01M152.1 57.1h.01M151.4 58.9h.01M164.2 65.9h.01M154.9 61.3h.01" stroke="#000" stroke-width="1.1" stroke-linecap="round" fill="none" opacity="1"/>
<ellipse cx="143.3" cy="59.8" rx="5.6" ry="4.9" fill="#000" opacity="1.0"/>
<rect x="138.0" y="59.8" width="10.6" height="6.6" rx="1.5" fill="#000"/>
<path d="M187.6 39.2h16.8M196 30.400000000000002v17.8" stroke="#000" stroke-width="1.9" fill="none"/>
<text x="199.6" y="36.5" font-size="8.4" text-anchor="start" font-weight="normal" >5</text>
<text x="204.7" y="89.5" font-size="8.3" stroke="#000" stroke-width="0.12">10<tspan font-size="5.8" dy="-3">4</tspan></text>
<text transform="translate(125.0,31.8) rotate(-90)" font-size="8.3" stroke="#000" stroke-width="0.12">10<tspan font-size="5.8" dy="-3">4</tspan></text>
<rect x="232.3" y="26.6" width="80.19999999999999" height="50.699999999999996" fill="none" stroke="#000" stroke-width="1.2"/>
<path d="M256.3 26.6V77.3M232.3 67.3H312.5" stroke="#000" stroke-width="1.2" fill="none"/>
<path d="M232.3 77.3v2.6M232.3 77.3h-3.0M238.3 77.3v1.8M232.3 73.5h-2.2M241.9 77.3v1.8M232.3 71.3h-2.2M244.4 77.3v1.8M232.3 69.7h-2.2M246.3 77.3v1.8M232.3 68.4h-2.2M247.9 77.3v1.8M232.3 67.4h-2.2M249.2 77.3v1.8M232.3 66.6h-2.2M250.4 77.3v1.8M232.3 65.9h-2.2M251.4 77.3v1.8M232.3 65.2h-2.2M252.4 77.3v2.6M232.3 64.6h-3.0M258.4 77.3v1.8M232.3 60.8h-2.2M261.9 77.3v1.8M232.3 58.6h-2.2M264.4 77.3v1.8M232.3 57.0h-2.2M266.4 77.3v1.8M232.3 55.8h-2.2M268.0 77.3v1.8M232.3 54.8h-2.2M269.3 77.3v1.8M232.3 53.9h-2.2M270.5 77.3v1.8M232.3 53.2h-2.2M271.5 77.3v1.8M232.3 52.5h-2.2M272.4 77.3v2.6M232.3 52.0h-3.0M278.4 77.3v1.8M232.3 48.1h-2.2M282.0 77.3v1.8M232.3 45.9h-2.2M284.5 77.3v1.8M232.3 44.3h-2.2M286.4 77.3v1.8M232.3 43.1h-2.2M288.0 77.3v1.8M232.3 42.1h-2.2M289.3 77.3v1.8M232.3 41.2h-2.2M290.5 77.3v1.8M232.3 40.5h-2.2M291.5 77.3v1.8M232.3 39.9h-2.2M292.4 77.3v2.6M232.3 39.3h-3.0M298.5 77.3v1.8M232.3 35.5h-2.2M302.0 77.3v1.8M232.3 33.2h-2.2M304.5 77.3v1.8M232.3 31.6h-2.2M306.5 77.3v1.8M232.3 30.4h-2.2M308.1 77.3v1.8M232.3 29.4h-2.2M309.4 77.3v1.8M232.3 28.6h-2.2M310.6 77.3v1.8M232.3 27.8h-2.2M311.6 77.3v1.8M232.3 27.2h-2.2" stroke="#000" stroke-width="1" fill="none"/>
<path d="M252.1 53.0h.01M248.9 64.6h.01M243.7 63.4h.01M248.3 54.3h.01M244.5 51.6h.01M241.4 55.8h.01M241.5 58.3h.01M255.2 59.5h.01M248.9 51.1h.01M240.6 55.8h.01M249.6 52.5h.01M249.9 49.0h.01M241.9 55.9h.01M244.9 64.5h.01M242.6 62.4h.01M254.2 57.7h.01M242.6 57.7h.01M242.3 53.4h.01M239.7 62.2h.01M244.1 54.7h.01M251.9 62.4h.01M242.4 55.4h.01M241.1 56.2h.01M236.8 60.2h.01M243.9 54.8h.01M246.3 54.3h.01M242.0 58.2h.01M240.2 61.1h.01M242.8 58.1h.01M246.6 55.0h.01M252.4 57.0h.01M250.0 64.3h.01M253.2 54.6h.01M255.6 63.3h.01M250.8 63.1h.01M249.3 55.0h.01M255.0 52.5h.01M249.6 55.0h.01M251.3 54.8h.01M242.3 61.1h.01M255.5 61.4h.01M254.1 57.7h.01M248.4 53.3h.01M245.6 64.1h.01M238.6 62.1h.01M243.6 62.9h.01M246.3 54.8h.01M242.8 62.8h.01M241.3 54.1h.01M247.4 64.5h.01M242.1 61.2h.01M240.6 58.9h.01M250.6 55.2h.01M234.0 59.1h.01M246.6 55.0h.01M244.0 50.6h.01M254.6 59.0h.01M239.8 54.5h.01M253.2 60.5h.01M249.7 55.0h.01M243.6 63.1h.01M241.8 60.3h.01M253.4 58.1h.01M238.1 59.9h.01M247.9 52.9h.01M241.7 55.0h.01M245.8 55.2h.01M250.0 63.1h.01M242.2 63.5h.01M242.1 56.0h.01M256.6 58.4h.01M243.7 55.4h.01M249.1 64.1h.01M248.5 65.3h.01M246.9 65.8h.01M244.1 56.2h.01M247.4 53.9h.01M244.6 54.8h.01M243.7 64.3h.01M239.4 56.0h.01M249.5 63.6h.01M246.4 52.7h.01M238.8 58.4h.01M234.8 59.4h.01M254.5 64.6h.01M252.9 58.8h.01M243.0 62.6h.01M247.9 66.4h.01M251.7 55.3h.01M255.6 59.4h.01M247.0 64.1h.01M248.0 54.4h.01M239.7 64.7h.01M250.6 53.0h.01M256.7 56.0h.01M244.8 55.6h.01M251.4 64.5h.01M241.3 55.4h.01M240.4 64.0h.01M257.1 61.9h.01M252.9 62.8h.01M244.3 53.8h.01M238.6 63.2h.01M249.2 54.9h.01M243.1 63.6h.01M250.8 54.3h.01M246.2 55.1h.01M243.0 52.5h.01M241.0 62.3h.01M245.7 55.0h.01M248.1 54.9h.01M238.8 60.8h.01M254.4 59.9h.01M245.6 54.5h.01M238.7 62.6h.01M253.0 59.1h.01M245.2 53.8h.01M251.6 64.4h.01M238.8 63.6h.01M242.5 57.9h.01M241.9 64.1h.01M251.1 66.4h.01M253.1 53.6h.01M254.0 57.1h.01M252.4 60.4h.01M247.3 66.3h.01M249.7 63.8h.01M248.5 52.8h.01M236.6 61.1h.01M249.4 63.7h.01M248.3 53.2h.01M239.9 59.0h.01M241.8 66.3h.01M247.1 52.4h.01M237.2 57.2h.01M236.0 60.9h.01M236.5 62.1h.01M242.0 57.5h.01M251.2 53.1h.01M249.8 64.0h.01M253.2 64.1h.01M253.0 58.9h.01M250.1 64.2h.01M252.0 57.1h.01M253.6 57.5h.01M241.9 58.2h.01M249.7 54.0h.01M253.8 60.8h.01M248.2 63.9h.01M245.2 51.5h.01M239.3 60.0h.01M245.4 63.8h.01M242.0 59.2h.01M242.6 54.7h.01M254.8 52.6h.01M253.6 57.6h.01M244.1 53.0h.01M253.2 60.0h.01M240.9 57.1h.01M247.8 65.1h.01M247.2 53.7h.01M250.3 63.1h.01M246.3 64.1h.01M253.7 62.1h.01M243.4 63.0h.01M248.9 65.5h.01M251.5 63.4h.01M252.7 60.2h.01M250.1 54.6h.01M250.8 52.8h.01M246.2 66.3h.01M251.5 65.8h.01M248.9 64.2h.01M241.2 65.3h.01M242.4 57.6h.01M247.9 54.4h.01M249.1 54.1h.01M233.6 61.5h.01M239.9 60.5h.01M258.0 59.0h.01M242.9 54.4h.01M246.5 65.0h.01M241.2 57.1h.01M241.4 53.6h.01M244.3 55.1h.01M255.8 57.1h.01M245.1 54.1h.01M252.7 57.1h.01M249.1 64.9h.01M240.8 66.0h.01M252.4 57.6h.01M249.6 65.0h.01M250.2 64.4h.01M237.3 57.9h.01M240.6 62.0h.01M242.9 63.6h.01M256.4 59.8h.01M234.3 59.1h.01M247.9 54.3h.01M237.1 63.0h.01M245.2 54.5h.01M251.9 54.1h.01M245.8 63.6h.01M252.7 60.0h.01M240.7 52.8h.01M237.2 61.8h.01M240.9 58.9h.01M249.8 63.9h.01M242.1 60.2h.01M244.3 64.6h.01M248.8 65.2h.01M248.1 53.9h.01M250.6 50.2h.01M247.9 64.2h.01M247.9 51.5h.01M252.4 61.3h.01M242.9 63.3h.01M250.1 63.4h.01M237.7 54.2h.01M249.7 64.7h.01M251.5 52.5h.01M248.6 64.4h.01M239.7 50.7h.01M240.0 62.8h.01M239.8 49.6h.01M242.6 61.8h.01M243.3 54.2h.01M249.7 63.5h.01M243.5 64.4h.01M253.1 60.8h.01M251.3 65.0h.01M250.1 66.4h.01M247.8 54.6h.01M239.9 65.1h.01M254.3 55.1h.01M249.2 65.9h.01M250.8 55.4h.01M249.0 65.8h.01M254.8 65.1h.01M241.6 58.9h.01M250.2 55.3h.01M248.0 53.3h.01M237.7 57.2h.01M253.6 59.0h.01M242.1 59.0h.01M248.7 54.6h.01M248.2 65.0h.01M242.4 62.1h.01M253.9 61.7h.01M249.9 64.9h.01M236.6 61.8h.01M253.6 57.7h.01M241.9 52.8h.01M249.7 50.1h.01M245.5 55.3h.01M246.4 64.6h.01M242.1 56.3h.01M252.2 56.6h.01M241.8 53.6h.01M240.3 60.2h.01M244.4 65.3h.01M241.1 54.4h.01M253.5 56.3h.01M248.8 51.8h.01M252.9 52.7h.01M241.9 62.2h.01M255.6 59.9h.01M237.5 52.5h.01M248.4 64.7h.01M248.2 65.3h.01M241.5 59.8h.01M243.2 54.0h.01M255.5 54.4h.01M251.9 62.8h.01M249.9 53.0h.01M241.5 59.3h.01M247.5 54.2h.01M244.8 63.2h.01M243.1 61.7h.01M248.4 64.0h.01M244.6 55.0h.01M247.4 66.3h.01M251.1 66.4h.01M251.2 56.2h.01M247.1 54.4h.01M245.7 53.9h.01M251.6 50.9h.01M240.3 62.0h.01M252.1 65.3h.01M248.4 64.2h.01M242.8 56.8h.01M242.5 58.7h.01M241.6 59.9h.01M244.9 54.0h.01M240.0 66.0h.01M239.6 55.9h.01M242.7 55.2h.01M241.8 55.0h.01M238.8 61.4h.01M240.7 59.3h.01M247.5 52.9h.01M248.6 52.0h.01M234.4 59.8h.01M250.1 63.6h.01M233.9 57.7h.01M254.7 58.4h.01M256.5 59.5h.01M253.7 62.9h.01M243.5 56.7h.01M253.7 65.0h.01M251.6 56.0h.01M250.2 53.4h.01M250.5 64.7h.01M241.0 50.2h.01M242.5 58.8h.01M244.9 66.0h.01M250.9 64.2h.01M251.8 63.5h.01M248.5 54.7h.01M253.8 60.3h.01M246.3 54.9h.01M242.8 55.3h.01M236.8 53.8h.01M242.5 64.6h.01M249.0 50.0h.01M249.5 65.4h.01M240.9 59.8h.01M242.4 53.6h.01M241.7 56.8h.01M241.0 58.6h.01M240.6 55.5h.01M241.7 58.5h.01M238.3 60.9h.01M250.5 66.2h.01M250.3 52.5h.01M251.4 65.0h.01M252.9 55.6h.01M253.9 55.2h.01M242.7 64.1h.01M241.3 62.0h.01M249.4 63.5h.01M247.4 54.1h.01M242.3 57.2h.01M240.7 58.0h.01M254.5 52.6h.01M255.6 57.2h.01M252.5 60.8h.01M240.9 59.5h.01M244.7 63.3h.01M251.3 62.5h.01M255.5 58.4h.01M251.6 55.2h.01M242.5 57.0h.01M239.4 59.8h.01M253.6 58.7h.01M243.7 55.6h.01M241.1 59.5h.01M248.0 53.8h.01M255.3 57.9h.01M242.0 59.2h.01M249.5 51.1h.01M253.9 51.6h.01M244.2 63.1h.01M242.8 54.8h.01M242.3 59.4h.01M255.4 54.3h.01M253.3 60.3h.01M241.1 56.5h.01M244.1 62.7h.01M247.2 65.7h.01M243.1 61.5h.01M239.0 59.4h.01M242.7 56.0h.01M246.5 66.3h.01M250.6 54.8h.01M241.2 64.2h.01M242.2 63.4h.01M257.3 62.9h.01M258.0 62.3h.01M246.8 64.7h.01M247.6 63.7h.01M249.1 65.6h.01M242.0 54.3h.01M248.5 65.7h.01M242.5 53.7h.01M249.8 53.9h.01M242.3 57.0h.01M245.3 63.8h.01M243.3 54.0h.01M244.0 52.9h.01M253.5 57.4h.01M251.5 56.1h.01M241.5 56.9h.01M240.5 57.5h.01M240.9 63.4h.01M248.6 64.1h.01M254.7 55.0h.01M237.9 61.8h.01M242.4 54.7h.01M253.6 66.3h.01M255.0 57.1h.01M245.9 63.9h.01M240.8 60.6h.01M239.8 61.0h.01M251.7 64.4h.01M241.1 63.6h.01M243.6 64.6h.01M247.7 54.9h.01M246.6 66.2h.01M247.7 53.8h.01M251.6 66.3h.01M248.2 64.0h.01M244.5 65.7h.01M250.1 64.8h.01M251.0 64.7h.01M253.3 65.7h.01M245.6 64.9h.01M239.3 57.7h.01M241.9 52.8h.01M250.6 53.8h.01M240.1 66.2h.01M251.1 55.1h.01M245.6 64.4h.01M240.6 50.8h.01M247.5 51.3h.01M241.2 58.0h.01M250.6 63.3h.01M253.3 54.5h.01M245.1 52.6h.01M241.7 54.5h.01M248.6 64.0h.01M253.3 56.7h.01M245.5 54.6h.01M242.4 56.1h.01M253.7 58.2h.01M238.4 57.2h.01M257.1 59.9h.01M250.2 54.4h.01M244.0 54.0h.01M238.8 55.7h.01M254.0 61.7h.01M241.9 57.9h.01M252.0 56.3h.01M239.3 59.6h.01M252.6 54.0h.01M239.9 58.0h.01M246.6 66.4h.01M240.4 61.0h.01M256.1 52.5h.01M249.7 54.4h.01M247.1 54.6h.01M245.0 63.7h.01M246.6 53.5h.01M254.5 60.2h.01M242.6 61.8h.01M242.6 66.4h.01M242.3 59.9h.01M241.4 56.1h.01M250.5 63.2h.01M244.6 53.4h.01M242.0 62.6h.01M254.1 58.9h.01M244.8 55.3h.01M242.2 61.6h.01M253.2 59.9h.01M245.8 65.5h.01M251.1 48.3h.01M253.1 57.7h.01M256.7 57.7h.01M242.6 59.9h.01M239.0 56.9h.01M238.5 63.3h.01M237.0 54.8h.01M242.6 65.0h.01M246.7 53.2h.01M239.3 57.8h.01M250.4 55.7h.01M245.0 54.4h.01M246.2 53.1h.01M252.9 53.9h.01M254.3 60.9h.01M249.1 52.9h.01M247.3 51.7h.01M254.8 56.7h.01M249.8 52.6h.01M237.9 58.8h.01M249.8 65.7h.01M250.3 52.0h.01M253.4 62.4h.01M247.9 54.3h.01M252.3 57.3h.01M237.0 62.0h.01M252.6 59.8h.01M246.3 48.7h.01M246.0 51.5h.01M246.1 54.8h.01M250.4 53.3h.01M240.0 59.4h.01M244.3 55.4h.01M240.6 59.2h.01M247.3 64.0h.01M252.2 57.4h.01M238.4 64.1h.01M246.8 54.8h.01M248.3 66.2h.01M239.3 60.3h.01M253.0 59.8h.01M240.2 58.6h.01M245.0 55.5h.01M235.8 58.8h.01M239.4 61.1h.01M243.2 56.2h.01M242.6 61.8h.01M242.2 58.8h.01M255.1 62.5h.01M248.6 54.6h.01M243.4 63.3h.01M244.8 55.3h.01M234.9 63.1h.01M251.8 62.7h.01M253.3 59.4h.01M242.9 55.7h.01M254.0 57.9h.01M243.2 64.1h.01M250.8 63.3h.01M244.9 52.7h.01M250.3 65.9h.01M242.9 65.2h.01M240.1 58.5h.01M240.6 61.3h.01M255.2 60.0h.01M249.2 64.5h.01M243.1 61.5h.01M241.4 54.5h.01M251.0 63.6h.01M253.1 59.1h.01M242.0 59.1h.01M242.4 63.6h.01M243.9 64.7h.01M252.2 56.0h.01M249.2 54.1h.01M243.2 52.4h.01M244.9 64.6h.01M244.7 51.9h.01M241.0 55.0h.01M250.2 52.9h.01M236.7 60.7h.01M246.4 54.5h.01M238.4 60.9h.01M247.9 65.8h.01M247.9 64.5h.01M250.3 53.3h.01M239.0 62.5h.01M239.4 57.1h.01M248.0 51.7h.01M243.8 54.9h.01M244.2 54.5h.01M251.4 63.0h.01M255.0 62.4h.01M249.1 54.9h.01M241.5 62.3h.01M252.2 64.0h.01M244.4 63.2h.01M240.6 64.0h.01M252.7 60.7h.01M239.2 60.5h.01M250.7 62.7h.01M252.9 57.9h.01M241.7 53.3h.01M248.2 64.8h.01M245.2 54.4h.01M250.0 63.9h.01M253.2 59.3h.01M250.2 53.0h.01M241.5 60.7h.01M238.6 57.4h.01M236.8 54.3h.01M245.2 52.2h.01M241.1 64.1h.01M242.6 59.4h.01M241.4 59.6h.01M255.9 62.4h.01M250.1 65.1h.01M251.5 64.5h.01M250.5 63.1h.01M250.4 63.7h.01M241.5 66.0h.01M250.6 63.5h.01M241.5 62.0h.01M250.2 63.7h.01M244.0 63.6h.01M242.6 54.7h.01M239.8 53.3h.01M250.4 53.2h.01M251.2 55.4h.01M248.5 64.0h.01M243.4 56.1h.01M242.5 60.0h.01M249.4 53.8h.01M249.4 54.9h.01M248.5 66.4h.01M236.7 56.5h.01M242.9 61.0h.01M247.8 65.8h.01M239.8 58.1h.01M240.3 66.4h.01M239.2 53.9h.01M252.7 55.6h.01M251.5 62.2h.01M242.5 54.1h.01M242.8 61.5h.01M252.3 61.6h.01M253.5 59.4h.01M252.9 57.1h.01M242.5 60.3h.01M243.2 57.1h.01M244.4 64.1h.01M243.4 64.1h.01M243.3 64.2h.01M252.6 52.6h.01M249.4 52.9h.01M242.0 54.5h.01M241.4 61.3h.01M237.9 58.2h.01M237.2 59.4h.01M243.0 66.3h.01M251.6 56.6h.01M251.9 52.2h.01M242.7 52.5h.01M240.3 58.5h.01M240.3 60.9h.01M252.7 61.1h.01M246.1 54.0h.01M238.6 59.7h.01M242.3 55.8h.01M252.5 52.8h.01M242.0 51.4h.01M253.7 56.9h.01M251.7 55.5h.01M243.8 55.7h.01M244.0 63.5h.01M254.0 64.1h.01M249.1 65.5h.01M248.6 54.4h.01M251.4 52.2h.01M246.9 65.2h.01M242.9 56.0h.01M248.9 53.6h.01M239.7 61.9h.01M249.0 64.2h.01M252.6 62.3h.01M255.5 66.2h.01M238.2 57.1h.01M242.7 53.1h.01M246.8 66.4h.01M246.2 55.0h.01M250.9 53.0h.01M238.3 63.8h.01M238.4 56.8h.01M248.5 65.9h.01M244.7 65.1h.01M239.3 64.9h.01M246.9 54.6h.01M252.5 65.6h.01M240.4 57.3h.01M251.0 64.2h.01M240.7 59.1h.01M253.8 60.1h.01M242.6 56.1h.01M242.5 60.4h.01M241.9 61.6h.01M237.8 64.7h.01M249.3 64.7h.01M249.3 51.8h.01M242.2 56.8h.01M234.0 60.1h.01M244.8 63.0h.01M247.6 48.5h.01M251.0 53.8h.01M241.8 55.4h.01M251.8 54.3h.01M237.3 64.1h.01M244.1 64.9h.01M245.5 64.3h.01M254.7 50.9h.01M241.8 57.1h.01M250.9 64.9h.01M252.2 56.6h.01M241.9 59.8h.01M250.8 53.8h.01M244.5 54.9h.01M247.8 63.7h.01M248.7 64.4h.01M249.1 54.3h.01M257.2 55.6h.01M246.1 54.3h.01M254.4 63.0h.01M246.4 53.1h.01M240.7 61.1h.01M242.9 62.2h.01M245.4 54.6h.01M241.6 64.5h.01M252.7 58.1h.01M251.7 63.6h.01M250.4 65.2h.01M248.4 51.7h.01M241.4 56.9h.01M249.9 64.8h.01M238.6 62.5h.01M250.8 63.7h.01M240.2 65.8h.01M252.4 55.0h.01M252.0 65.4h.01M247.7 64.8h.01M241.7 56.5h.01M252.7 55.4h.01M239.8 60.5h.01M246.4 52.3h.01M252.5 51.6h.01M242.7 56.7h.01M241.2 58.0h.01M238.2 58.8h.01M235.6 53.3h.01M249.7 48.4h.01M249.9 63.9h.01M249.7 54.3h.01M251.3 52.6h.01M248.3 65.6h.01M246.8 65.7h.01M250.8 53.0h.01M238.7 65.1h.01M250.5 64.3h.01M253.7 62.8h.01M237.4 55.0h.01M255.0 59.1h.01M251.8 51.6h.01M241.5 62.4h.01M251.5 53.7h.01M240.1 55.1h.01M248.0 50.6h.01M253.4 55.0h.01M245.6 65.9h.01M236.8 57.2h.01M245.1 63.8h.01M240.7 61.5h.01M247.9 65.6h.01M246.1 63.9h.01M243.4 64.8h.01M250.9 54.7h.01M242.0 65.8h.01M256.9 63.2h.01M250.5 64.5h.01M240.6 54.1h.01M242.1 51.6h.01M253.8 62.9h.01M247.8 66.1h.01M248.4 54.9h.01M247.9 65.9h.01M250.8 63.1h.01M251.4 65.6h.01M243.0 61.9h.01M236.9 55.6h.01M238.8 57.9h.01M238.0 53.4h.01M248.9 54.7h.01M238.5 61.3h.01M241.0 49.5h.01M250.4 65.4h.01M241.4 59.1h.01M253.6 64.4h.01M243.4 62.3h.01M251.7 63.0h.01M241.7 59.6h.01M237.7 65.9h.01M243.5 65.1h.01M245.5 52.7h.01M252.1 62.4h.01M241.5 57.6h.01M241.2 58.6h.01M242.4 61.8h.01M249.8 51.2h.01M245.4 53.9h.01M251.5 64.5h.01M250.6 55.6h.01M252.7 63.0h.01M239.1 62.2h.01M250.0 64.8h.01M246.0 54.6h.01M249.3 52.8h.01M241.5 63.0h.01M251.1 63.0h.01M254.2 59.4h.01M252.7 62.9h.01M239.4 53.8h.01M250.9 64.4h.01M252.1 55.4h.01M256.8 62.1h.01M243.2 57.0h.01M244.3 54.9h.01M234.5 61.5h.01M244.1 63.1h.01M248.9 54.0h.01M240.5 59.4h.01M250.1 52.0h.01M243.4 54.9h.01M242.0 52.3h.01M244.0 62.4h.01M240.8 60.5h.01M236.6 57.7h.01M246.9 50.4h.01M251.4 52.8h.01M241.8 58.2h.01M251.9 62.5h.01M248.2 50.3h.01M250.0 64.1h.01M247.2 54.3h.01M241.8 59.6h.01M242.6 58.2h.01M246.6 63.7h.01M251.0 54.1h.01M238.9 54.6h.01M249.5 52.2h.01M251.5 65.1h.01M240.1 60.8h.01M254.5 61.1h.01M242.0 66.1h.01M253.0 59.4h.01M244.2 65.2h.01M263.0 54.7h.01M265.8 64.9h.01M270.7 64.1h.01M270.6 59.8h.01M263.8 65.2h.01M276.9 59.0h.01M260.6 64.8h.01M260.9 55.2h.01M269.7 61.0h.01M256.9 62.7h.01M267.4 62.9h.01M257.6 56.4h.01M269.0 65.6h.01M260.0 63.3h.01M263.4 65.6h.01M278.8 59.1h.01M258.9 61.3h.01M268.1 65.0h.01M257.8 66.2h.01M270.8 66.3h.01M259.1 65.0h.01M260.8 60.4h.01M279.4 66.1h.01M261.2 55.6h.01M267.1 60.0h.01M267.5 54.5h.01M262.4 63.9h.01M262.1 60.8h.01M267.3 64.8h.01M274.3 60.0h.01M259.9 64.4h.01M274.5 60.2h.01M259.6 59.8h.01M267.5 66.1h.01M266.1 65.6h.01M264.0 65.8h.01M256.7 63.1h.01M261.7 56.5h.01M263.9 63.5h.01M258.4 62.7h.01M267.7 60.9h.01M257.3 56.3h.01M256.7 57.8h.01M265.9 65.0h.01M261.0 62.3h.01M258.4 64.0h.01M271.7 58.9h.01M265.1 57.4h.01M264.8 60.2h.01M264.0 57.3h.01M264.3 58.7h.01M256.3 66.0h.01M267.2 61.1h.01M260.4 59.2h.01M260.2 63.6h.01M265.3 60.2h.01M264.0 63.5h.01M260.3 62.4h.01M256.5 60.5h.01M264.6 66.3h.01M261.3 60.2h.01M268.6 61.2h.01M264.3 56.1h.01M266.4 64.2h.01M259.3 61.7h.01M262.1 60.8h.01M258.5 56.5h.01M259.9 60.1h.01M281.3 55.6h.01M264.6 64.2h.01M274.7 63.9h.01M266.1 63.0h.01M256.7 66.5h.01M264.9 60.0h.01M256.9 60.9h.01M256.7 64.1h.01M256.6 59.9h.01M258.2 65.2h.01M263.4 61.2h.01M271.9 64.3h.01M261.2 62.3h.01M269.7 66.3h.01M259.4 60.1h.01M275.6 59.3h.01M260.4 65.5h.01M262.5 60.9h.01M264.8 62.2h.01M256.3 62.5h.01M262.1 61.9h.01M261.3 61.6h.01M261.7 56.9h.01M273.2 65.4h.01M259.6 63.5h.01M274.4 63.1h.01M268.6 62.7h.01M275.5 60.2h.01M270.8 56.3h.01M271.2 59.4h.01M260.4 66.2h.01M256.5 55.7h.01M277.2 60.2h.01M261.1 65.4h.01M257.2 57.1h.01M260.5 60.6h.01M265.0 65.4h.01M261.0 59.4h.01M269.5 61.1h.01M277.7 62.9h.01M259.0 65.8h.01M267.9 64.7h.01M257.2 59.9h.01M268.7 60.5h.01M257.9 52.1h.01M260.7 58.3h.01M265.8 61.6h.01M258.8 61.8h.01M265.5 62.7h.01M256.9 62.3h.01M266.9 59.2h.01M261.5 64.7h.01M259.8 63.3h.01M260.9 63.8h.01M267.4 65.3h.01M258.5 54.0h.01M268.4 59.7h.01M259.5 62.3h.01M262.7 63.4h.01M261.1 57.3h.01M270.5 55.6h.01M260.2 56.6h.01M267.9 57.1h.01M260.4 55.1h.01M258.0 64.0h.01M264.6 53.4h.01M256.5 58.4h.01M280.6 59.8h.01M269.9 58.1h.01M256.4 58.8h.01M263.4 59.1h.01M256.9 65.8h.01M264.6 61.0h.01M280.2 65.8h.01M263.1 54.7h.01M257.6 65.6h.01M266.9 65.0h.01M260.2 59.7h.01M265.6 52.0h.01M268.6 52.3h.01M261.2 66.0h.01M274.6 53.6h.01M268.7 58.5h.01M264.5 65.0h.01M259.7 64.5h.01M268.4 66.4h.01M269.3 55.8h.01M259.6 57.2h.01M266.2 60.6h.01M259.4 57.3h.01M272.1 63.6h.01M269.4 65.8h.01M270.3 58.6h.01M259.4 57.8h.01M266.8 56.9h.01M259.2 62.4h.01M257.0 61.9h.01M257.7 63.1h.01M259.5 61.1h.01M261.8 62.6h.01M263.3 62.9h.01M260.8 62.4h.01M264.7 58.7h.01M259.2 57.9h.01M261.0 57.9h.01M263.1 62.2h.01M285.8 66.5h.01M257.0 59.7h.01M258.5 63.3h.01M260.5 62.0h.01M265.4 58.9h.01M263.6 61.5h.01M265.8 66.3h.01M265.3 64.3h.01M263.3 57.8h.01M267.4 62.6h.01M256.3 57.4h.01M273.0 58.7h.01M257.9 64.7h.01M256.4 65.2h.01M261.6 64.8h.01M264.5 59.7h.01M264.4 64.5h.01M269.1 57.9h.01M261.8 56.7h.01M257.8 54.9h.01M274.0 60.4h.01M258.4 60.0h.01M261.8 61.3h.01M257.6 62.4h.01M263.7 57.3h.01M273.6 57.9h.01M258.7 52.1h.01M260.7 61.3h.01M269.2 61.7h.01M265.4 60.4h.01M261.1 63.3h.01M267.8 65.9h.01M263.5 59.9h.01M256.7 56.5h.01M257.6 62.4h.01M259.5 52.7h.01M262.5 52.1h.01M256.5 64.2h.01M265.0 56.7h.01M257.2 61.5h.01M263.9 65.8h.01M258.1 54.5h.01M264.0 59.9h.01M273.9 61.6h.01M264.6 61.0h.01M267.9 60.6h.01M264.1 62.7h.01M259.1 61.3h.01M266.0 61.8h.01M261.0 60.6h.01M257.5 56.4h.01M263.7 65.3h.01M269.0 56.1h.01M262.8 64.7h.01M264.0 63.9h.01M261.9 66.0h.01M273.2 60.9h.01M260.1 57.0h.01M259.0 61.0h.01M258.3 61.4h.01M264.8 64.9h.01M263.7 64.4h.01M257.5 60.5h.01M259.9 58.9h.01M269.7 59.4h.01M268.4 58.9h.01M256.4 62.7h.01M256.4 56.7h.01M261.0 65.8h.01M262.7 55.5h.01M275.0 61.4h.01M266.8 53.3h.01M263.4 55.2h.01M257.5 64.8h.01M264.1 59.3h.01M262.8 59.0h.01M280.8 63.8h.01M263.9 56.7h.01M266.2 61.1h.01M265.0 64.9h.01M263.9 60.3h.01M276.5 56.5h.01M265.9 66.3h.01M262.1 64.5h.01M267.0 63.4h.01M262.4 61.6h.01M270.3 65.6h.01M267.3 60.1h.01M262.1 59.7h.01M257.0 61.6h.01M258.2 66.1h.01M266.5 57.1h.01M259.3 60.7h.01M264.0 64.4h.01M264.2 66.5h.01M260.7 56.5h.01M264.6 62.1h.01M274.6 52.1h.01M257.4 65.5h.01M267.6 65.8h.01M259.3 52.1h.01M279.1 53.4h.01M264.2 62.8h.01M260.5 60.5h.01M263.4 62.9h.01M264.6 64.4h.01" stroke="#000" stroke-width="1.1" stroke-linecap="round" fill="none" opacity="1"/>
<ellipse cx="247.6" cy="59.3" rx="5.9" ry="5.2" fill="#000" opacity="1.0"/>
<rect x="242.0" y="59.3" width="11.2" height="7.1" rx="1.5" fill="#000"/>
<path d="M289.1 39.2h16.8M297.5 30.400000000000002v17.8" stroke="#000" stroke-width="1.9" fill="none"/>
<text x="301.3" y="36.5" font-size="8.4" text-anchor="start" font-weight="normal" >7</text>
<text x="306.7" y="89.5" font-size="8.3" stroke="#000" stroke-width="0.12">10<tspan font-size="5.8" dy="-3">4</tspan></text>
<text transform="translate(226.70000000000002,31.8) rotate(-90)" font-size="8.3" stroke="#000" stroke-width="0.12">10<tspan font-size="5.8" dy="-3">4</tspan></text>
<rect x="333.3" y="26.6" width="79.69999999999999" height="50.699999999999996" fill="none" stroke="#000" stroke-width="1.2"/>
<path d="M354 26.6V77.3M333.3 67.3H413" stroke="#000" stroke-width="1.2" fill="none"/>
<path d="M333.3 77.3v2.6M333.3 77.3h-3.0M339.3 77.3v1.8M333.3 73.5h-2.2M342.8 77.3v1.8M333.3 71.3h-2.2M345.3 77.3v1.8M333.3 69.7h-2.2M347.2 77.3v1.8M333.3 68.4h-2.2M348.8 77.3v1.8M333.3 67.4h-2.2M350.1 77.3v1.8M333.3 66.6h-2.2M351.3 77.3v1.8M333.3 65.9h-2.2M352.3 77.3v1.8M333.3 65.2h-2.2M353.2 77.3v2.6M333.3 64.6h-3.0M359.2 77.3v1.8M333.3 60.8h-2.2M362.7 77.3v1.8M333.3 58.6h-2.2M365.2 77.3v1.8M333.3 57.0h-2.2M367.2 77.3v1.8M333.3 55.8h-2.2M368.7 77.3v1.8M333.3 54.8h-2.2M370.1 77.3v1.8M333.3 53.9h-2.2M371.2 77.3v1.8M333.3 53.2h-2.2M372.2 77.3v1.8M333.3 52.5h-2.2M373.1 77.3v2.6M333.3 52.0h-3.0M379.1 77.3v1.8M333.3 48.1h-2.2M382.7 77.3v1.8M333.3 45.9h-2.2M385.1 77.3v1.8M333.3 44.3h-2.2M387.1 77.3v1.8M333.3 43.1h-2.2M388.7 77.3v1.8M333.3 42.1h-2.2M390.0 77.3v1.8M333.3 41.2h-2.2M391.1 77.3v1.8M333.3 40.5h-2.2M392.2 77.3v1.8M333.3 39.9h-2.2M393.1 77.3v2.6M333.3 39.3h-3.0M399.1 77.3v1.8M333.3 35.5h-2.2M402.6 77.3v1.8M333.3 33.2h-2.2M405.1 77.3v1.8M333.3 31.6h-2.2M407.0 77.3v1.8M333.3 30.4h-2.2M408.6 77.3v1.8M333.3 29.4h-2.2M409.9 77.3v1.8M333.3 28.6h-2.2M411.1 77.3v1.8M333.3 27.8h-2.2M412.1 77.3v1.8M333.3 27.2h-2.2" stroke="#000" stroke-width="1" fill="none"/>
<path d="M345.9 63.5h.01M353.8 65.5h.01M356.1 56.6h.01M353.7 61.8h.01M345.9 55.2h.01M347.8 53.6h.01M344.1 56.6h.01M339.3 55.0h.01M346.5 53.1h.01M354.9 58.5h.01M343.3 60.3h.01M339.5 61.0h.01M354.3 60.7h.01M341.6 51.3h.01M353.5 56.7h.01M352.9 56.4h.01M354.0 62.6h.01M344.2 61.2h.01M344.1 65.4h.01M346.8 55.2h.01M344.6 55.7h.01M347.2 51.0h.01M341.3 59.7h.01M353.8 66.3h.01M344.8 62.4h.01M339.9 58.1h.01M354.4 63.9h.01M343.1 56.3h.01M345.1 62.6h.01M343.5 54.8h.01M357.8 57.8h.01M358.7 56.6h.01M353.8 54.8h.01M355.0 61.2h.01M354.9 63.9h.01M339.7 61.0h.01M355.0 56.7h.01M354.3 52.9h.01M356.5 57.9h.01M343.4 62.0h.01M339.4 60.5h.01M341.2 55.1h.01M353.2 62.3h.01M341.1 63.1h.01M340.6 60.9h.01M356.6 59.5h.01M347.3 54.7h.01M350.9 65.7h.01M345.3 65.8h.01M344.4 61.8h.01M354.4 53.2h.01M334.8 61.7h.01M344.4 56.6h.01M356.2 58.6h.01M341.1 62.5h.01M351.8 52.5h.01M343.0 65.6h.01M353.9 54.9h.01M352.4 64.1h.01M358.2 66.2h.01M340.4 54.1h.01M337.1 63.7h.01M354.3 61.2h.01M342.3 58.4h.01M356.2 57.0h.01M341.4 56.8h.01M350.2 63.7h.01M350.0 54.5h.01M350.4 53.4h.01M352.0 55.7h.01M354.5 58.3h.01M340.3 58.8h.01M355.1 53.2h.01M353.3 62.3h.01M351.1 65.4h.01M356.9 61.1h.01M346.5 63.2h.01M344.8 62.0h.01M354.9 58.6h.01M348.2 53.9h.01M356.9 57.7h.01M355.8 62.4h.01M335.0 57.5h.01M355.4 57.6h.01M334.6 61.2h.01M354.8 60.5h.01M344.8 62.0h.01M345.9 53.8h.01M342.5 58.1h.01M350.8 50.8h.01M353.6 66.1h.01M348.1 48.2h.01M349.9 53.8h.01M344.2 51.1h.01M353.3 55.4h.01M345.3 53.1h.01M339.0 58.1h.01M352.6 66.3h.01M348.3 63.7h.01M354.3 62.2h.01M355.1 57.1h.01M352.4 63.7h.01M349.8 52.9h.01M344.0 52.0h.01M341.5 53.4h.01M355.4 57.8h.01M354.4 60.0h.01M346.6 55.4h.01M352.2 55.8h.01M346.5 51.3h.01M343.3 61.5h.01M347.7 64.4h.01M344.5 55.2h.01M340.0 58.3h.01M349.9 51.4h.01M357.1 54.5h.01M341.3 59.4h.01M349.3 54.9h.01M355.2 54.0h.01M353.5 65.8h.01M346.6 63.5h.01M340.2 59.8h.01M340.1 64.5h.01M345.5 65.4h.01M343.3 63.0h.01M341.5 60.8h.01M344.1 65.2h.01M342.1 60.8h.01M343.8 61.2h.01M351.4 63.3h.01M357.2 55.0h.01M349.6 65.3h.01M354.2 60.1h.01M341.9 62.5h.01M347.6 53.8h.01M341.9 62.0h.01M354.5 57.9h.01M350.8 53.7h.01M346.6 53.9h.01M353.6 57.1h.01M337.3 54.8h.01M343.8 56.8h.01M341.7 60.0h.01M340.6 55.6h.01M353.1 56.1h.01M350.2 64.9h.01M349.6 54.8h.01M343.8 58.6h.01M345.8 63.7h.01M343.2 61.9h.01M339.9 62.6h.01M353.3 55.1h.01M345.0 53.9h.01M354.9 55.7h.01M344.0 62.2h.01M349.6 52.4h.01M353.4 56.6h.01M353.1 54.8h.01M344.4 55.5h.01M346.4 53.8h.01M341.5 60.3h.01M343.0 52.7h.01M342.3 51.2h.01M347.5 53.5h.01M348.4 54.2h.01M353.7 56.1h.01M354.9 64.7h.01M353.0 62.2h.01M341.1 59.5h.01M345.9 63.6h.01M354.6 56.4h.01M341.8 53.4h.01M353.0 64.3h.01M346.6 64.3h.01M354.1 66.3h.01M342.4 65.1h.01M355.8 56.0h.01M344.3 55.8h.01M357.1 65.7h.01M350.8 65.7h.01M343.2 58.9h.01M341.8 64.0h.01M345.3 64.7h.01M339.5 52.6h.01M340.9 63.4h.01M343.5 58.9h.01M356.4 54.5h.01M339.1 54.1h.01M347.2 63.8h.01M356.0 57.9h.01M355.3 53.9h.01M355.3 55.3h.01M346.0 54.6h.01M343.6 63.9h.01M349.7 53.0h.01M343.9 61.1h.01M344.1 62.0h.01M350.8 65.0h.01M337.1 65.7h.01M354.5 54.0h.01M354.4 62.6h.01M347.0 63.3h.01M346.2 52.6h.01M355.3 59.8h.01M345.9 55.4h.01M345.0 65.3h.01M344.9 56.5h.01M356.8 61.4h.01M348.4 64.0h.01M340.2 53.7h.01M351.9 54.0h.01M348.2 64.0h.01M350.4 54.7h.01M354.6 61.1h.01M352.6 62.9h.01M351.9 54.9h.01M353.2 62.9h.01M351.1 54.2h.01M346.6 53.9h.01M353.3 62.4h.01M350.9 53.5h.01M345.3 63.3h.01M347.1 65.2h.01M351.8 64.6h.01M351.5 54.3h.01M354.6 65.5h.01M342.0 58.7h.01M350.6 66.5h.01M338.0 62.8h.01M343.1 57.4h.01M342.2 61.3h.01M356.1 60.3h.01M343.2 60.5h.01M340.8 56.3h.01M350.9 65.6h.01M354.0 56.4h.01M351.0 55.1h.01M345.8 62.8h.01M351.5 65.3h.01M354.9 60.8h.01M344.6 62.4h.01M352.8 64.3h.01M346.9 63.6h.01M338.3 60.9h.01M352.5 62.6h.01M343.2 51.7h.01M345.7 55.1h.01M340.6 65.0h.01M353.6 52.7h.01M352.3 47.5h.01M353.6 64.3h.01M355.3 54.8h.01M342.9 58.7h.01M351.1 55.0h.01M354.9 62.2h.01M342.1 55.6h.01M346.8 54.9h.01M343.7 64.0h.01M341.5 60.9h.01M343.2 57.9h.01M355.5 56.4h.01M350.6 55.1h.01M355.4 63.6h.01M354.4 56.4h.01M341.3 54.5h.01M341.5 63.2h.01M341.7 62.8h.01M355.3 51.8h.01M350.9 53.4h.01M352.4 52.6h.01M354.2 59.2h.01M355.0 56.0h.01M338.1 61.8h.01M343.7 66.1h.01M352.7 55.2h.01M339.6 54.0h.01M346.5 65.9h.01M354.1 51.9h.01M345.8 54.8h.01M343.3 57.4h.01M338.9 60.5h.01M353.5 63.8h.01M340.3 60.2h.01M355.3 61.6h.01M343.8 52.7h.01M352.3 55.1h.01M350.7 54.3h.01M356.1 60.1h.01M342.8 59.3h.01M349.4 49.7h.01M343.1 60.4h.01M354.2 63.4h.01M354.8 60.6h.01M341.2 60.0h.01M342.5 56.2h.01M343.0 56.1h.01M341.4 61.7h.01M343.6 59.0h.01M348.2 50.8h.01M356.0 65.4h.01M348.5 53.7h.01M354.1 57.5h.01M355.8 60.0h.01M340.4 60.8h.01M345.3 62.6h.01M357.2 60.6h.01M337.8 62.3h.01M353.1 54.7h.01M349.7 54.0h.01M343.7 60.1h.01M342.4 60.5h.01M355.5 63.3h.01M350.0 64.9h.01M345.1 52.7h.01M344.6 56.8h.01M343.8 58.1h.01M341.6 57.6h.01M347.2 66.2h.01M356.8 60.7h.01M358.4 55.8h.01M346.8 50.2h.01M343.8 58.1h.01M351.7 55.3h.01M343.3 57.9h.01M342.3 51.8h.01M352.0 65.0h.01M346.3 54.8h.01M351.8 63.4h.01M348.2 53.5h.01M342.9 61.0h.01M350.3 63.9h.01M345.7 64.0h.01M343.3 61.6h.01M347.4 53.2h.01M353.6 56.6h.01M342.1 63.0h.01M357.6 58.3h.01M349.0 54.1h.01M354.5 60.0h.01M349.8 53.6h.01M337.9 55.0h.01M356.6 60.4h.01M352.0 54.5h.01M343.6 59.6h.01M343.1 65.0h.01M353.9 63.3h.01M346.0 55.2h.01M335.7 61.9h.01M342.4 58.4h.01M352.9 55.7h.01M350.2 53.2h.01M353.9 63.3h.01M352.4 65.7h.01M342.6 56.1h.01M350.5 54.4h.01M341.8 62.3h.01M342.0 57.7h.01M353.3 63.3h.01M347.6 55.0h.01M354.2 50.9h.01M348.2 53.6h.01M340.6 63.2h.01M341.4 59.5h.01M340.5 53.3h.01M357.3 58.3h.01M357.1 64.1h.01M353.6 51.6h.01M354.9 59.6h.01M346.0 66.2h.01M343.5 58.1h.01M339.1 59.9h.01M353.8 52.7h.01M352.5 64.6h.01M352.6 54.7h.01M354.0 62.5h.01M349.6 54.7h.01M341.2 57.8h.01M351.6 64.0h.01M346.9 63.8h.01M342.0 61.1h.01M352.8 63.9h.01M344.8 55.6h.01M348.0 65.0h.01M357.3 61.5h.01M353.0 51.0h.01M344.2 61.1h.01M344.9 53.3h.01M355.2 61.7h.01M354.5 56.8h.01M355.5 55.0h.01M344.5 54.1h.01M353.1 55.9h.01M351.7 64.0h.01M350.4 65.4h.01M346.0 65.6h.01M341.8 61.4h.01M347.1 64.2h.01M342.6 62.5h.01M341.4 61.2h.01M340.4 49.7h.01M350.6 54.6h.01M345.8 62.8h.01M355.7 57.6h.01M343.1 57.8h.01M343.8 64.4h.01M343.3 63.8h.01M354.6 57.1h.01M341.0 57.8h.01M339.7 62.3h.01M349.0 54.2h.01M354.2 57.2h.01M350.3 54.4h.01M357.5 54.7h.01M344.9 63.4h.01M356.1 62.6h.01M343.2 57.6h.01M335.7 64.5h.01M349.6 54.3h.01M342.5 57.8h.01M345.9 50.0h.01M342.2 56.7h.01M338.4 61.9h.01M344.4 56.2h.01M349.0 63.8h.01M352.6 51.7h.01M343.4 60.8h.01M351.7 54.8h.01M348.3 53.3h.01M346.7 52.8h.01M343.9 53.7h.01M344.6 55.7h.01M354.1 61.7h.01M350.0 54.5h.01M340.7 56.4h.01M342.3 56.2h.01M339.6 65.7h.01M346.3 55.3h.01M344.7 55.3h.01M352.9 55.7h.01M336.4 56.1h.01M350.8 54.7h.01M348.4 63.7h.01M351.9 54.6h.01M347.0 65.8h.01M341.7 60.8h.01M349.8 64.9h.01M344.5 63.5h.01M346.3 54.2h.01M355.0 64.4h.01M355.0 60.2h.01M346.8 54.7h.01M350.7 65.4h.01M350.5 65.2h.01M340.4 60.2h.01M343.6 55.4h.01M345.7 53.6h.01M352.0 55.1h.01M344.5 54.8h.01M348.9 53.8h.01M348.3 53.6h.01M346.8 65.3h.01M356.2 63.2h.01M344.7 62.6h.01M342.6 52.9h.01M353.0 55.4h.01M348.8 63.7h.01M350.9 65.5h.01M352.1 51.4h.01M342.3 54.5h.01M348.8 63.9h.01M344.9 63.8h.01M353.0 62.5h.01M355.5 57.9h.01M346.8 54.2h.01M353.4 55.5h.01M343.5 54.2h.01M343.1 61.6h.01M349.8 53.0h.01M350.3 55.1h.01M340.3 64.0h.01M358.2 56.5h.01M353.7 55.2h.01M349.6 66.0h.01M356.9 55.0h.01M356.0 62.1h.01M348.4 54.1h.01M338.5 64.3h.01M339.2 61.2h.01M344.6 53.3h.01M348.8 65.3h.01M354.1 61.6h.01M358.1 58.0h.01M343.2 60.9h.01M342.4 56.3h.01M350.1 64.1h.01M347.1 54.0h.01M341.2 58.9h.01M341.6 62.3h.01M348.1 51.2h.01M342.0 60.9h.01M354.8 57.4h.01M354.9 55.3h.01M343.1 62.1h.01M348.5 65.3h.01M354.3 64.3h.01M344.7 62.2h.01M347.8 63.6h.01M342.1 65.7h.01M350.7 64.0h.01M344.4 53.7h.01M350.8 64.4h.01M348.4 64.9h.01M345.9 54.2h.01M350.2 66.2h.01M338.6 48.4h.01M352.6 63.0h.01M350.1 65.5h.01M338.3 63.0h.01M341.0 58.1h.01M356.4 55.6h.01M343.2 64.1h.01M342.5 61.1h.01M338.0 63.5h.01M341.4 58.5h.01M354.9 56.5h.01M341.4 62.2h.01M356.6 59.7h.01M343.4 61.3h.01M346.9 66.1h.01M351.6 66.0h.01M339.4 59.2h.01M352.7 62.6h.01M344.5 54.1h.01M342.7 54.5h.01M343.6 59.5h.01M347.6 55.0h.01M345.8 54.3h.01M350.1 51.2h.01M348.8 53.9h.01M342.2 55.1h.01M353.1 65.0h.01M355.9 58.7h.01M346.2 54.1h.01M339.1 62.8h.01M340.3 54.0h.01M355.3 57.6h.01M351.5 55.4h.01M354.6 58.6h.01M349.8 54.7h.01M342.0 60.7h.01M349.8 47.6h.01M354.9 59.0h.01M348.4 64.6h.01M350.3 64.0h.01M344.5 65.5h.01M357.6 56.1h.01M341.8 56.6h.01M354.2 58.0h.01M346.3 54.6h.01M334.4 57.0h.01M354.2 62.3h.01M353.1 52.9h.01M352.8 65.3h.01M351.6 65.3h.01M342.2 57.0h.01M347.8 53.9h.01M355.0 62.7h.01M342.2 56.4h.01M351.2 63.4h.01M342.7 59.2h.01M343.1 54.0h.01M344.4 62.3h.01M354.1 64.5h.01M350.7 63.5h.01M345.3 62.5h.01M356.7 58.0h.01M338.1 52.1h.01M353.2 62.0h.01M354.1 57.4h.01M351.8 63.6h.01M351.5 65.8h.01M340.9 58.3h.01M353.9 56.9h.01M343.9 57.9h.01M353.3 54.5h.01M339.5 53.0h.01M354.0 52.9h.01M350.1 50.9h.01M357.0 61.7h.01M348.8 51.2h.01M338.6 54.3h.01M346.2 54.7h.01M353.9 50.7h.01M351.1 55.0h.01M342.9 63.4h.01M344.3 53.4h.01M354.3 55.0h.01M344.8 64.8h.01M343.5 54.4h.01M348.2 64.8h.01M350.5 54.5h.01M344.5 55.5h.01M354.5 64.9h.01M352.3 55.0h.01M340.3 55.9h.01M342.5 56.0h.01M356.8 55.5h.01M347.6 53.2h.01M354.2 62.4h.01M337.5 59.3h.01M351.3 54.6h.01M346.4 55.0h.01M354.1 64.0h.01M350.5 52.5h.01M354.0 61.7h.01M342.6 54.0h.01M340.0 52.8h.01M343.2 58.5h.01M352.7 63.5h.01M353.5 53.7h.01M339.5 56.6h.01M343.4 59.5h.01M351.9 63.0h.01M339.4 63.5h.01M344.6 62.5h.01M355.4 57.3h.01M340.5 62.3h.01M343.2 65.3h.01M345.8 64.2h.01M342.0 61.2h.01M335.2 56.1h.01M338.8 57.9h.01M354.3 54.1h.01M347.2 53.4h.01M348.7 52.8h.01M339.0 59.1h.01M353.4 55.2h.01M347.2 53.8h.01M354.5 60.1h.01M349.6 53.3h.01M350.8 65.3h.01M342.3 57.2h.01M343.4 52.0h.01M343.3 61.9h.01M342.9 59.7h.01M343.9 64.0h.01M354.4 60.4h.01M354.6 49.4h.01M344.7 54.7h.01M349.8 54.9h.01M355.2 59.8h.01M350.5 65.7h.01M342.0 60.6h.01M343.0 60.9h.01M343.7 63.1h.01M343.6 61.1h.01M338.4 46.7h.01M344.9 62.6h.01M351.8 64.4h.01M349.7 54.9h.01M355.0 55.8h.01M355.8 59.3h.01M341.8 61.2h.01M354.7 58.8h.01M351.9 64.4h.01M351.3 51.9h.01M337.4 65.4h.01M342.8 56.8h.01M352.9 55.8h.01M347.6 64.5h.01M344.0 58.1h.01M350.8 53.2h.01M342.9 60.5h.01M357.2 56.9h.01M349.7 63.8h.01M353.2 62.4h.01M347.5 49.9h.01M351.7 55.2h.01M352.1 64.4h.01M354.1 61.3h.01M348.9 66.3h.01M353.5 63.8h.01M353.0 53.8h.01M351.7 53.6h.01M341.4 64.2h.01M349.9 65.9h.01M355.0 53.6h.01M340.7 65.1h.01M351.0 63.4h.01M351.7 54.5h.01M354.2 57.3h.01M353.5 63.3h.01M353.7 65.1h.01M343.2 52.3h.01M347.4 53.3h.01M343.8 62.9h.01M338.7 51.6h.01M351.6 64.5h.01M350.6 64.1h.01M347.6 64.2h.01M353.0 47.1h.01M351.1 65.3h.01M342.0 54.9h.01M344.2 63.2h.01M351.8 55.2h.01M343.9 52.7h.01M338.7 64.3h.01M350.1 64.3h.01M342.3 55.7h.01M346.8 66.5h.01M341.9 54.0h.01M348.7 64.4h.01M339.7 53.8h.01M353.0 53.7h.01M355.7 60.3h.01M344.4 62.9h.01M350.4 50.2h.01M343.7 54.8h.01M354.0 61.8h.01M340.6 52.3h.01M339.5 54.2h.01M349.5 54.7h.01M340.3 61.5h.01M350.6 52.6h.01M346.1 53.7h.01M347.1 54.3h.01M354.5 56.4h.01M343.7 61.7h.01M353.6 63.6h.01M349.1 65.4h.01M350.1 54.9h.01M342.1 56.1h.01M355.0 58.8h.01M351.7 55.4h.01M351.1 65.0h.01M348.6 64.5h.01M343.3 60.0h.01M337.2 59.0h.01M349.2 47.3h.01M352.6 66.2h.01M348.5 65.8h.01M349.0 54.6h.01M355.5 61.1h.01M343.7 54.0h.01M355.0 57.0h.01M354.4 56.3h.01M350.0 55.0h.01M352.4 64.3h.01M343.5 53.8h.01M353.7 57.2h.01M343.8 62.0h.01M343.3 60.7h.01M340.3 59.7h.01M343.6 59.6h.01M363.0 62.9h.01M339.9 53.7h.01M343.7 61.5h.01M354.3 55.2h.01M344.5 56.4h.01M355.5 53.5h.01M347.2 54.1h.01M353.1 55.5h.01M344.5 63.9h.01M338.6 57.9h.01M335.1 59.0h.01M351.7 64.4h.01M356.5 53.5h.01M351.9 64.0h.01M352.3 55.3h.01M342.8 58.7h.01M342.3 62.9h.01M344.7 65.3h.01M354.3 59.4h.01M349.9 51.7h.01M348.4 54.8h.01M344.1 61.1h.01M341.4 61.5h.01M357.2 56.4h.01M343.8 60.9h.01M343.7 60.3h.01M354.8 59.8h.01M343.3 53.7h.01M348.7 63.7h.01M350.5 54.0h.01M343.0 59.7h.01M353.6 54.2h.01M351.5 64.2h.01M345.6 65.3h.01M343.2 59.7h.01M351.9 63.7h.01M344.3 57.0h.01M338.9 56.2h.01M342.5 58.9h.01M343.7 60.5h.01M341.9 60.2h.01M356.0 57.7h.01M342.8 63.5h.01M348.9 53.8h.01M345.5 63.1h.01M342.1 56.2h.01M342.3 58.9h.01M352.9 52.7h.01M348.5 51.9h.01M356.7 57.1h.01M343.4 62.2h.01M343.1 57.9h.01M340.9 56.1h.01M343.8 57.1h.01M337.4 62.6h.01M357.6 57.9h.01M334.4 59.8h.01M335.2 58.6h.01M343.2 58.9h.01M351.8 52.3h.01M357.4 60.6h.01M342.8 59.3h.01M344.6 63.9h.01M344.8 63.8h.01M342.4 59.9h.01M345.1 55.7h.01M344.6 56.1h.01M352.3 55.4h.01M344.5 65.6h.01M354.3 60.3h.01M354.4 61.2h.01M354.6 62.7h.01M343.1 59.8h.01M340.5 58.0h.01M347.9 64.2h.01M354.1 60.4h.01M341.3 63.4h.01M338.1 61.4h.01M350.5 47.7h.01M351.2 64.9h.01M345.9 64.8h.01M342.5 61.4h.01M347.2 65.9h.01M348.1 63.6h.01M352.1 62.9h.01M354.0 61.1h.01M350.9 64.1h.01M345.4 53.4h.01M353.8 66.4h.01M351.8 55.2h.01M354.2 59.9h.01M343.0 54.2h.01M345.3 53.4h.01M348.9 66.3h.01M355.6 60.9h.01M342.7 59.6h.01M342.8 58.6h.01M349.7 63.7h.01M353.2 66.0h.01M348.2 52.8h.01M362.0 60.5h.01M343.2 49.1h.01M351.7 52.6h.01M345.0 56.5h.01M345.7 54.4h.01M347.4 52.9h.01M343.2 61.0h.01M351.4 64.9h.01M353.2 63.8h.01M344.7 62.0h.01M352.6 55.8h.01M338.7 54.2h.01M343.0 64.9h.01M344.0 54.6h.01M349.1 65.2h.01M355.0 55.8h.01M344.0 54.9h.01M352.5 54.0h.01M348.3 49.1h.01M342.9 58.0h.01M357.3 57.3h.01M357.5 60.6h.01M369.1 60.8h.01M354.2 60.7h.01M358.0 64.0h.01M380.1 55.0h.01M355.5 63.9h.01M357.6 62.2h.01M359.1 60.6h.01M380.5 62.8h.01M366.7 66.1h.01M356.8 56.1h.01M371.2 64.3h.01M354.3 63.8h.01M373.8 55.0h.01M356.3 63.4h.01M359.6 66.4h.01M355.8 56.3h.01M361.1 63.7h.01M359.6 62.1h.01M372.4 62.9h.01M358.1 54.2h.01M354.1 60.4h.01M362.8 63.5h.01M362.8 56.4h.01M370.9 62.3h.01M367.9 65.7h.01M358.1 63.6h.01M356.8 64.6h.01M377.5 58.6h.01M361.2 57.9h.01M357.4 58.3h.01M357.2 60.1h.01M362.4 59.8h.01M358.9 62.0h.01M367.9 59.6h.01M360.1 58.8h.01M365.5 59.6h.01M354.8 62.0h.01M356.1 60.9h.01M377.8 60.8h.01M385.2 53.0h.01M361.3 58.4h.01M359.1 56.8h.01M358.0 59.1h.01M373.2 60.8h.01M370.3 61.4h.01M355.2 59.9h.01M360.5 54.0h.01M354.1 63.8h.01M378.2 52.6h.01M356.6 64.4h.01M358.6 56.2h.01M377.9 60.8h.01M364.5 56.1h.01M370.4 60.6h.01M366.0 56.2h.01M360.1 57.5h.01M367.0 53.7h.01M367.1 56.9h.01M357.9 55.5h.01M373.0 60.5h.01M354.2 57.5h.01M359.5 60.5h.01M355.7 59.8h.01M357.7 65.4h.01M362.2 61.5h.01M355.2 56.9h.01M364.5 55.3h.01M361.5 63.6h.01M358.4 61.1h.01M358.6 65.0h.01M357.3 65.4h.01M362.6 57.0h.01M359.3 65.8h.01M355.8 63.8h.01M363.5 64.0h.01M356.4 65.9h.01M357.3 55.7h.01M363.2 58.7h.01M357.6 65.9h.01M359.3 63.6h.01M363.8 62.8h.01M366.2 62.7h.01M380.2 64.9h.01M356.4 66.0h.01M354.4 57.4h.01M356.8 58.5h.01M363.8 52.4h.01M360.3 63.8h.01M369.2 60.7h.01M376.1 64.3h.01M360.1 57.0h.01M365.5 57.2h.01M363.1 56.7h.01M369.1 65.6h.01M374.7 59.4h.01M354.3 59.3h.01M364.3 58.8h.01M356.7 59.8h.01M375.9 62.8h.01M370.8 63.2h.01M363.6 60.2h.01M357.4 59.4h.01M374.8 61.1h.01M360.3 62.4h.01M358.2 62.7h.01M367.5 56.0h.01M356.3 63.6h.01M362.8 57.8h.01M366.7 53.0h.01M361.0 53.5h.01M359.2 61.5h.01M379.9 63.7h.01M366.7 62.6h.01M377.2 62.0h.01M363.7 61.9h.01M361.7 54.7h.01M369.7 63.8h.01M375.7 57.2h.01M387.0 64.1h.01M385.0 59.3h.01M367.9 57.3h.01M379.1 57.2h.01M373.6 60.8h.01M364.6 61.6h.01M377.0 64.1h.01M359.0 63.5h.01M372.3 56.3h.01M354.5 62.9h.01M361.5 62.7h.01M358.6 63.6h.01M359.2 58.7h.01M360.6 59.8h.01M366.7 62.9h.01M362.6 66.0h.01M358.9 59.7h.01M369.2 57.5h.01M363.8 63.0h.01M373.9 60.3h.01M363.0 64.3h.01M373.5 57.8h.01M360.6 64.6h.01M360.6 66.3h.01M362.3 62.9h.01M357.5 64.4h.01M369.3 58.4h.01M374.3 58.9h.01M360.6 57.6h.01M363.1 59.0h.01M360.5 66.2h.01M367.7 63.4h.01M362.7 64.9h.01M365.1 65.0h.01M355.1 59.6h.01M360.2 58.7h.01M356.9 57.9h.01M374.4 63.7h.01M366.8 66.0h.01M367.2 57.9h.01M359.3 64.1h.01M369.3 64.2h.01M355.1 58.8h.01M372.5 61.6h.01M354.3 64.8h.01M361.2 54.7h.01M365.6 65.8h.01M360.8 62.2h.01M354.9 62.3h.01M368.3 61.7h.01M364.0 64.8h.01M357.5 62.7h.01M358.4 60.5h.01M371.5 57.6h.01M364.5 60.4h.01M359.6 61.8h.01M361.0 54.0h.01M368.5 64.4h.01M359.4 55.5h.01M366.2 65.1h.01M362.0 63.5h.01M368.3 56.8h.01M361.1 52.2h.01M370.5 54.9h.01M359.0 56.8h.01M360.1 57.4h.01M376.0 55.7h.01M358.4 56.0h.01M372.8 52.7h.01M357.6 61.6h.01M358.5 60.2h.01M359.8 58.6h.01M358.4 65.7h.01M360.4 58.3h.01M365.0 61.4h.01M362.5 66.5h.01M375.5 60.0h.01M370.0 54.3h.01M377.9 55.5h.01M357.8 60.3h.01M354.9 64.6h.01M365.0 63.2h.01M373.5 54.5h.01M365.0 65.1h.01M362.0 59.6h.01M375.8 62.7h.01M378.4 59.4h.01M379.4 58.4h.01M377.4 64.3h.01M372.6 65.9h.01M357.5 65.1h.01M364.8 59.4h.01M370.0 66.5h.01M384.2 64.6h.01M357.1 66.2h.01M361.3 59.3h.01M393.9 65.5h.01M360.2 64.4h.01M355.5 52.1h.01M366.7 65.5h.01M367.7 58.7h.01M369.4 62.8h.01M367.2 66.3h.01M364.9 62.7h.01M366.2 63.0h.01M360.5 62.0h.01M363.8 53.8h.01M375.4 66.4h.01M362.6 62.9h.01M378.5 59.4h.01M384.1 65.4h.01M358.3 64.2h.01M382.7 55.7h.01M355.5 58.9h.01M391.8 61.6h.01M368.7 58.5h.01M367.5 65.7h.01M356.5 58.9h.01M356.6 62.0h.01M366.5 63.0h.01M383.4 56.0h.01M358.4 60.3h.01M386.0 53.8h.01M354.2 65.5h.01M363.7 61.3h.01M356.7 63.2h.01M357.5 56.0h.01M365.8 53.4h.01M364.5 60.3h.01M357.1 64.0h.01M354.0 62.4h.01M373.7 63.7h.01M355.4 52.2h.01M381.4 63.4h.01M369.7 60.7h.01M388.7 62.5h.01M369.0 63.3h.01M367.8 66.0h.01M358.5 60.8h.01M374.6 54.5h.01M372.1 65.0h.01M354.6 65.6h.01M360.1 57.5h.01M370.7 54.4h.01M360.0 58.8h.01M358.0 61.1h.01M360.4 65.4h.01M367.9 54.8h.01M355.5 61.8h.01M354.3 61.7h.01M368.0 62.6h.01M366.2 54.3h.01M356.7 60.9h.01M357.5 57.3h.01M361.6 56.2h.01M376.5 55.2h.01M367.0 54.0h.01M357.2 56.4h.01M362.9 61.4h.01M359.7 64.4h.01M354.5 59.1h.01M355.9 65.4h.01M364.9 59.8h.01M376.8 62.6h.01M371.9 64.0h.01M375.9 59.2h.01M370.4 62.1h.01M354.8 64.3h.01M358.2 59.2h.01M370.0 54.9h.01M375.8 65.1h.01M360.5 63.9h.01M365.5 64.0h.01M363.5 61.1h.01M355.2 60.1h.01M360.7 54.6h.01M372.8 56.7h.01M367.0 66.5h.01M374.9 61.9h.01M361.1 62.9h.01M369.8 60.7h.01M359.2 65.0h.01M368.5 65.1h.01M359.8 59.6h.01M361.8 57.2h.01M368.8 53.1h.01M373.4 59.1h.01M360.9 62.1h.01M377.3 60.6h.01M382.0 60.4h.01M359.8 54.8h.01M354.6 60.5h.01M361.2 54.6h.01M360.5 62.5h.01M364.1 63.4h.01M378.2 65.2h.01M354.2 66.0h.01M374.8 64.1h.01M371.8 64.2h.01M370.3 53.2h.01M367.3 58.6h.01M362.1 66.4h.01M375.3 59.9h.01M355.2 53.9h.01M359.3 65.4h.01M362.2 52.3h.01M358.7 65.7h.01M383.9 55.4h.01M371.1 66.0h.01M357.7 63.7h.01M359.8 55.9h.01M368.6 66.2h.01M356.5 58.1h.01M361.7 63.9h.01M360.9 53.2h.01M372.6 63.3h.01M356.7 59.2h.01M382.0 54.1h.01M376.6 56.4h.01M366.7 65.4h.01M371.2 58.5h.01M356.7 62.9h.01M360.9 58.7h.01M354.6 63.5h.01M374.9 62.8h.01M377.4 56.4h.01M366.2 64.3h.01M374.3 63.1h.01M369.8 59.3h.01M355.1 64.8h.01M357.0 64.3h.01M359.8 64.6h.01M355.5 65.7h.01M364.8 55.7h.01M362.7 59.2h.01M365.4 64.8h.01M374.2 59.7h.01M356.7 65.6h.01M362.2 65.8h.01M362.8 61.6h.01M357.9 66.4h.01M356.0 56.1h.01M357.1 58.8h.01M362.4 60.3h.01M365.1 56.6h.01M362.6 60.6h.01M390.5 57.4h.01M355.5 54.7h.01M362.2 59.3h.01M362.6 61.8h.01M359.3 65.2h.01M370.5 59.8h.01M372.1 58.0h.01M355.8 58.3h.01M357.0 63.0h.01M368.6 63.3h.01M366.6 58.0h.01M359.1 65.2h.01M361.4 63.0h.01M355.4 63.4h.01M369.4 61.4h.01M361.2 57.3h.01M377.6 64.9h.01M370.9 54.3h.01M385.5 60.9h.01M362.6 52.3h.01M354.3 66.4h.01M373.0 61.1h.01M354.7 55.7h.01M371.7 57.9h.01M354.8 65.4h.01M364.1 62.4h.01M376.0 56.4h.01M368.7 57.9h.01M360.7 56.3h.01M367.7 57.9h.01M362.9 62.5h.01M364.9 58.8h.01M355.9 64.7h.01M377.3 58.3h.01M365.0 65.3h.01M362.3 61.5h.01M357.3 55.9h.01M356.4 57.2h.01M361.1 61.7h.01M380.0 62.1h.01M359.2 66.2h.01M366.8 64.8h.01M364.5 62.3h.01M379.8 60.3h.01M363.1 60.0h.01M361.6 55.1h.01M368.2 62.8h.01M362.0 57.2h.01M357.8 65.6h.01M359.7 63.7h.01M354.9 60.5h.01M355.9 62.2h.01M357.7 65.6h.01M354.6 61.3h.01" stroke="#000" stroke-width="1.1" stroke-linecap="round" fill="none" opacity="1"/>
<ellipse cx="349" cy="59.3" rx="6.2" ry="5.2" fill="#000" opacity="1.0"/>
<rect x="343.1" y="59.3" width="11.8" height="7.1" rx="1.5" fill="#000"/>
<path d="M389.6 39.2h16.8M398 30.400000000000002v17.8" stroke="#000" stroke-width="1.9" fill="none"/>
<text x="400.5" y="36.5" font-size="8.4" text-anchor="start" font-weight="normal" >18</text>
<text x="407.2" y="89.5" font-size="8.3" stroke="#000" stroke-width="0.12">10<tspan font-size="5.8" dy="-3">4</tspan></text>
<text transform="translate(327.7,31.8) rotate(-90)" font-size="8.3" stroke="#000" stroke-width="0.12">10<tspan font-size="5.8" dy="-3">4</tspan></text>
<rect x="130.6" y="95" width="79.9" height="50.5" fill="none" stroke="#000" stroke-width="1.2"/>
<path d="M154.3 95V145.5M130.6 130.9H210.5" stroke="#000" stroke-width="1.2" fill="none"/>
<path d="M130.6 145.5v2.6M130.6 145.5h-3.0M136.6 145.5v1.8M130.6 141.7h-2.2M140.1 145.5v1.8M130.6 139.5h-2.2M142.6 145.5v1.8M130.6 137.9h-2.2M144.6 145.5v1.8M130.6 136.7h-2.2M146.1 145.5v1.8M130.6 135.7h-2.2M147.5 145.5v1.8M130.6 134.8h-2.2M148.6 145.5v1.8M130.6 134.1h-2.2M149.7 145.5v1.8M130.6 133.5h-2.2M150.6 145.5v2.6M130.6 132.9h-3.0M156.6 145.5v1.8M130.6 129.1h-2.2M160.1 145.5v1.8M130.6 126.9h-2.2M162.6 145.5v1.8M130.6 125.3h-2.2M164.5 145.5v1.8M130.6 124.1h-2.2M166.1 145.5v1.8M130.6 123.1h-2.2M167.5 145.5v1.8M130.6 122.2h-2.2M168.6 145.5v1.8M130.6 121.5h-2.2M169.6 145.5v1.8M130.6 120.8h-2.2M170.6 145.5v2.6M130.6 120.2h-3.0M176.6 145.5v1.8M130.6 116.4h-2.2M180.1 145.5v1.8M130.6 114.2h-2.2M182.6 145.5v1.8M130.6 112.6h-2.2M184.5 145.5v1.8M130.6 111.4h-2.2M186.1 145.5v1.8M130.6 110.4h-2.2M187.4 145.5v1.8M130.6 109.6h-2.2M188.6 145.5v1.8M130.6 108.8h-2.2M189.6 145.5v1.8M130.6 108.2h-2.2M190.5 145.5v2.6M130.6 107.6h-3.0M196.5 145.5v1.8M130.6 103.8h-2.2M200.1 145.5v1.8M130.6 101.6h-2.2M202.6 145.5v1.8M130.6 100.0h-2.2M204.5 145.5v1.8M130.6 98.8h-2.2M206.1 145.5v1.8M130.6 97.8h-2.2M207.4 145.5v1.8M130.6 97.0h-2.2M208.6 145.5v1.8M130.6 96.2h-2.2M209.6 145.5v1.8M130.6 95.6h-2.2" stroke="#000" stroke-width="1" fill="none"/>
<path d="M135.4 121.6h.01M137.4 125.4h.01M145.4 128.8h.01M151.6 125.0h.01M150.6 123.8h.01M138.3 125.5h.01M135.6 123.9h.01M149.2 123.2h.01M151.4 124.9h.01M141.0 126.5h.01M137.3 129.4h.01M149.7 127.8h.01M140.6 121.6h.01M137.4 121.9h.01M145.0 128.7h.01M151.8 125.2h.01M146.7 119.6h.01M139.2 126.1h.01M146.0 129.0h.01M153.1 128.2h.01M144.8 128.6h.01M151.6 124.7h.01M137.5 128.1h.01M151.5 126.2h.01M152.8 126.5h.01M147.8 128.8h.01M142.7 127.9h.01M143.5 128.8h.01M137.9 125.8h.01M138.5 127.4h.01M147.1 120.0h.01M147.2 129.5h.01M151.5 128.0h.01M144.2 123.0h.01M142.0 128.9h.01M139.4 128.3h.01M147.3 128.6h.01M138.7 126.4h.01M144.1 128.5h.01M152.0 123.3h.01M150.6 126.9h.01M141.2 121.8h.01M151.4 122.2h.01M151.6 127.7h.01M140.8 123.0h.01M140.7 124.5h.01M143.7 123.2h.01M141.0 126.5h.01M151.5 128.9h.01M143.9 130.1h.01M136.7 125.3h.01M150.6 127.6h.01M148.8 129.9h.01M150.4 122.3h.01M151.7 125.8h.01M139.1 123.0h.01M144.0 123.2h.01M150.3 127.7h.01M146.5 122.2h.01M147.2 121.9h.01M150.9 128.2h.01M136.6 129.8h.01M152.9 128.3h.01M141.2 125.7h.01M150.6 127.1h.01M142.0 121.1h.01M147.5 123.0h.01M143.7 123.2h.01M151.6 122.3h.01M133.2 124.5h.01M137.7 123.0h.01M149.3 129.2h.01M138.9 128.3h.01M145.8 121.8h.01M140.8 126.1h.01M147.5 122.8h.01M145.6 129.8h.01M139.1 126.5h.01M147.0 121.4h.01M150.3 129.3h.01M139.6 126.2h.01M145.3 128.8h.01M139.5 123.1h.01M145.3 128.7h.01M137.3 124.7h.01M151.2 128.7h.01M139.2 125.0h.01M146.6 122.9h.01M139.8 123.2h.01M139.2 129.7h.01M146.4 121.0h.01M149.1 129.2h.01M148.9 123.3h.01M151.0 124.2h.01M150.3 127.7h.01M140.5 122.4h.01M140.3 126.8h.01M137.8 129.1h.01M148.6 121.9h.01M137.3 126.7h.01M152.0 127.1h.01M150.3 124.3h.01M149.9 124.2h.01M150.5 124.5h.01M152.6 124.8h.01M149.9 122.7h.01M149.9 121.2h.01M142.2 128.2h.01M150.0 127.8h.01M150.6 123.2h.01M148.4 128.4h.01M139.4 126.8h.01M148.4 128.3h.01M151.3 124.2h.01M150.8 126.8h.01M148.2 123.1h.01M147.8 122.9h.01M143.2 128.4h.01M151.0 127.0h.01M152.6 124.2h.01M149.9 127.4h.01M141.7 124.6h.01M147.7 121.6h.01M140.8 126.6h.01M142.8 121.2h.01M154.8 129.7h.01M144.5 129.1h.01M148.9 120.6h.01M141.0 122.5h.01M151.4 123.0h.01M143.9 120.5h.01M149.2 123.5h.01M142.2 123.0h.01M140.1 123.7h.01M140.5 130.1h.01M146.9 122.0h.01M154.1 125.6h.01M147.7 129.2h.01M142.4 129.9h.01M137.3 125.9h.01M145.0 129.2h.01M149.3 123.1h.01M146.2 120.1h.01M150.0 128.3h.01M141.6 126.9h.01M154.5 120.8h.01M142.9 120.2h.01M139.1 126.1h.01M142.0 129.8h.01M141.2 129.3h.01M141.1 125.9h.01M149.2 128.5h.01M151.8 123.9h.01M151.6 124.2h.01M149.5 130.1h.01M150.1 121.3h.01M147.5 121.8h.01M135.4 123.4h.01M141.5 123.7h.01M146.6 119.2h.01M149.7 122.9h.01M140.7 129.2h.01M139.5 129.5h.01M153.1 123.8h.01M148.4 128.8h.01M140.3 124.1h.01M151.7 128.3h.01M136.5 125.9h.01M152.4 126.8h.01M141.0 124.2h.01M137.2 123.8h.01M137.0 126.1h.01M151.4 124.9h.01M147.3 120.7h.01M146.7 121.3h.01M147.1 122.4h.01M142.6 129.6h.01M148.1 122.3h.01M147.3 123.1h.01M136.6 127.6h.01M148.2 122.6h.01M150.8 128.2h.01M143.6 123.2h.01M136.6 124.2h.01M147.3 128.6h.01M147.4 128.5h.01M138.3 128.3h.01M142.3 123.5h.01M149.6 123.3h.01M140.4 129.8h.01M145.4 121.2h.01M139.1 126.7h.01M140.4 127.2h.01M143.4 121.7h.01M136.8 125.7h.01M152.4 124.4h.01M143.1 123.5h.01M136.0 120.3h.01M148.4 121.7h.01M135.0 126.4h.01M144.0 129.5h.01M139.9 126.9h.01M149.1 120.1h.01M138.7 124.8h.01M140.3 125.4h.01M147.1 128.9h.01M147.4 120.9h.01M141.3 124.1h.01M142.8 128.5h.01M150.4 126.9h.01M146.0 129.0h.01M151.5 125.7h.01M155.5 124.8h.01M147.6 128.7h.01M150.3 128.0h.01M135.8 124.9h.01M144.1 129.6h.01M140.7 126.5h.01M148.9 129.2h.01M145.1 122.5h.01M141.8 129.0h.01M139.4 129.0h.01M149.2 122.0h.01M134.9 124.3h.01M147.7 122.8h.01M139.6 127.2h.01M137.5 130.1h.01M137.5 125.9h.01M146.5 121.4h.01M132.3 122.7h.01M141.5 121.1h.01M148.2 128.4h.01M137.2 129.8h.01M144.2 123.0h.01M147.3 122.0h.01M146.8 122.6h.01M152.9 126.6h.01M140.6 124.5h.01M145.7 129.3h.01M146.3 129.5h.01M150.8 126.5h.01M139.5 127.0h.01M140.9 126.5h.01M138.6 126.3h.01M149.8 128.1h.01M146.1 129.3h.01M140.6 128.4h.01M147.5 129.8h.01M141.9 128.5h.01M146.3 128.7h.01M148.8 128.7h.01M148.8 122.2h.01M150.8 124.3h.01M147.2 122.5h.01M152.2 125.3h.01M151.9 127.4h.01M148.4 121.8h.01M151.6 126.4h.01M151.1 124.5h.01M139.9 124.3h.01M147.4 122.9h.01M150.6 124.4h.01M140.1 128.2h.01M141.4 123.3h.01M148.9 120.3h.01M143.0 123.3h.01M147.1 123.0h.01M147.1 128.7h.01M149.3 123.8h.01M140.7 126.9h.01M147.3 122.3h.01M146.3 122.8h.01M151.7 127.9h.01M146.6 122.0h.01M146.1 120.2h.01M151.8 127.9h.01M149.2 129.9h.01M146.4 120.1h.01M145.4 129.5h.01M141.5 127.1h.01M150.8 125.4h.01M142.0 128.0h.01M148.6 129.8h.01M144.7 118.8h.01M143.8 121.6h.01M139.1 122.4h.01M148.5 129.1h.01M141.6 128.4h.01M133.9 125.5h.01M151.5 122.1h.01M139.7 121.7h.01M151.2 129.1h.01M135.5 126.8h.01M146.2 122.7h.01M141.4 121.1h.01M142.6 123.6h.01M151.5 125.5h.01M140.0 125.1h.01M149.6 128.0h.01M145.3 122.8h.01M141.1 122.7h.01M151.1 121.5h.01M141.8 127.6h.01M156.0 124.9h.01M155.2 125.3h.01M148.4 123.3h.01M138.4 128.6h.01M147.7 123.1h.01M138.5 124.8h.01M139.8 126.5h.01M151.2 122.0h.01M147.9 128.7h.01M152.4 123.4h.01M145.3 129.3h.01M150.9 126.5h.01M136.5 125.3h.01M141.1 126.0h.01M145.8 122.3h.01M143.7 129.8h.01M150.3 128.0h.01M138.3 129.3h.01M142.5 122.8h.01M137.5 122.9h.01M141.8 128.5h.01M145.0 122.4h.01M155.6 128.3h.01M151.0 127.1h.01M149.2 128.2h.01M141.1 124.1h.01M147.4 122.5h.01M146.6 129.4h.01M145.7 129.1h.01M148.4 121.7h.01M142.5 123.8h.01M139.4 127.3h.01M150.4 123.7h.01M141.6 126.8h.01M146.5 130.0h.01M139.0 127.7h.01M151.3 126.4h.01M140.9 122.5h.01M151.5 126.8h.01M144.5 122.9h.01M138.3 127.4h.01M153.1 126.5h.01M141.1 124.6h.01M138.0 126.3h.01M137.8 123.4h.01M149.3 128.0h.01M150.9 128.2h.01M140.8 128.8h.01M148.8 122.2h.01M138.1 126.1h.01M136.7 127.8h.01M147.9 120.7h.01M142.9 121.6h.01M140.6 125.1h.01M147.2 122.3h.01M141.4 120.7h.01M137.1 126.5h.01M144.5 123.1h.01M140.1 127.4h.01M147.0 129.7h.01M142.6 128.4h.01M141.4 127.1h.01M151.2 123.1h.01M140.2 128.5h.01M145.7 130.0h.01M141.2 128.6h.01M149.5 129.4h.01M139.4 123.4h.01M139.7 125.7h.01M135.4 123.4h.01M140.7 121.7h.01M141.3 129.3h.01M140.0 125.4h.01M142.1 127.8h.01M140.2 124.7h.01M139.1 126.7h.01M143.0 129.0h.01M140.1 127.7h.01M147.0 128.6h.01M153.0 123.9h.01M148.2 128.3h.01M155.6 126.1h.01M140.1 121.8h.01M140.3 127.8h.01M151.4 119.3h.01M147.9 121.1h.01M141.3 126.8h.01M136.7 125.1h.01M146.3 122.2h.01M142.3 128.6h.01M149.7 128.4h.01M139.7 123.2h.01M144.6 119.7h.01M140.5 122.3h.01M138.9 124.7h.01M141.9 123.3h.01M141.2 125.7h.01M150.5 128.9h.01M145.5 122.3h.01M143.0 127.1h.01M152.3 125.0h.01M138.9 126.8h.01M141.9 127.4h.01M138.8 123.0h.01M146.4 121.3h.01M145.7 122.9h.01M141.0 126.7h.01M132.9 127.2h.01M153.2 124.1h.01M151.7 125.3h.01M148.0 122.8h.01M159.7 126.3h.01M166.6 127.0h.01M158.5 125.4h.01M159.5 126.7h.01M159.1 128.2h.01M161.9 128.7h.01M159.4 128.4h.01M161.6 125.5h.01M155.5 126.6h.01M156.9 125.2h.01M157.2 129.5h.01M163.0 124.0h.01M167.4 124.9h.01M162.4 128.0h.01M155.8 130.0h.01M166.6 128.4h.01M156.0 124.4h.01M158.9 123.1h.01M160.8 129.3h.01M162.2 127.9h.01M162.0 127.8h.01M166.8 129.2h.01M160.9 126.7h.01M162.3 130.1h.01M158.6 126.6h.01M155.2 126.0h.01M161.2 126.0h.01M164.3 126.3h.01M154.4 129.4h.01M161.9 126.9h.01M158.9 129.5h.01M156.7 129.9h.01M163.6 122.5h.01M170.7 129.2h.01M166.3 128.7h.01M156.3 129.9h.01M160.4 123.8h.01M155.9 128.6h.01M160.0 129.6h.01M164.2 126.3h.01M169.4 126.5h.01M161.7 124.5h.01M157.7 127.6h.01M156.9 124.1h.01M154.4 124.0h.01M159.0 126.1h.01M163.1 127.6h.01M161.4 127.0h.01M159.8 128.1h.01M157.5 127.4h.01M145.5 120.6h.01M135.9 122.1h.01M143.4 115.2h.01M147.3 120.1h.01M141.7 121.1h.01M148.9 121.7h.01M140.1 119.9h.01M138.4 120.9h.01M134.8 122.3h.01M141.6 120.3h.01M152.8 119.1h.01M136.0 121.0h.01M151.6 111.9h.01M136.2 120.0h.01M144.8 117.8h.01M145.4 118.4h.01M144.6 117.0h.01M142.2 118.8h.01M149.7 118.6h.01M139.3 117.1h.01M135.9 119.1h.01M149.7 120.4h.01M140.5 120.8h.01M150.9 122.0h.01M141.9 115.3h.01M140.1 122.3h.01M145.1 119.4h.01M138.4 120.2h.01M149.0 121.4h.01M141.3 121.5h.01M138.9 117.3h.01M151.9 117.8h.01M148.4 117.5h.01M148.7 120.1h.01M144.1 122.2h.01M140.7 117.3h.01M148.8 119.4h.01M148.5 118.6h.01M149.0 120.5h.01M150.6 117.4h.01M136.4 118.6h.01M144.1 119.1h.01M152.4 121.2h.01M150.3 120.2h.01M140.5 121.1h.01" stroke="#000" stroke-width="1.1" stroke-linecap="round" fill="none" opacity="1"/>
<ellipse cx="146" cy="125.8" rx="5.6" ry="3.3" fill="#000" opacity="1.0"/>
<rect x="140.7" y="125.8" width="10.6" height="4.2" rx="1.5" fill="#000"/>
<path d="M187.6 107.5h16.8M196 98.7v17.8" stroke="#000" stroke-width="1.9" fill="none"/>
<text x="199.8" y="104.8" font-size="8.4" text-anchor="start" font-weight="normal" >4</text>
<text x="204.7" y="157.7" font-size="8.3" stroke="#000" stroke-width="0.12">10<tspan font-size="5.8" dy="-3">4</tspan></text>
<text transform="translate(125.0,100.2) rotate(-90)" font-size="8.3" stroke="#000" stroke-width="0.12">10<tspan font-size="5.8" dy="-3">4</tspan></text>
<rect x="232.3" y="95" width="80.19999999999999" height="50.5" fill="none" stroke="#000" stroke-width="1.2"/>
<path d="M254.9 95V145.5M232.3 130.9H312.5" stroke="#000" stroke-width="1.2" fill="none"/>
<path d="M232.3 145.5v2.6M232.3 145.5h-3.0M238.3 145.5v1.8M232.3 141.7h-2.2M241.9 145.5v1.8M232.3 139.5h-2.2M244.4 145.5v1.8M232.3 137.9h-2.2M246.3 145.5v1.8M232.3 136.7h-2.2M247.9 145.5v1.8M232.3 135.7h-2.2M249.2 145.5v1.8M232.3 134.8h-2.2M250.4 145.5v1.8M232.3 134.1h-2.2M251.4 145.5v1.8M232.3 133.5h-2.2M252.4 145.5v2.6M232.3 132.9h-3.0M258.4 145.5v1.8M232.3 129.1h-2.2M261.9 145.5v1.8M232.3 126.9h-2.2M264.4 145.5v1.8M232.3 125.3h-2.2M266.4 145.5v1.8M232.3 124.1h-2.2M268.0 145.5v1.8M232.3 123.1h-2.2M269.3 145.5v1.8M232.3 122.2h-2.2M270.5 145.5v1.8M232.3 121.5h-2.2M271.5 145.5v1.8M232.3 120.8h-2.2M272.4 145.5v2.6M232.3 120.2h-3.0M278.4 145.5v1.8M232.3 116.4h-2.2M282.0 145.5v1.8M232.3 114.2h-2.2M284.5 145.5v1.8M232.3 112.6h-2.2M286.4 145.5v1.8M232.3 111.4h-2.2M288.0 145.5v1.8M232.3 110.4h-2.2M289.3 145.5v1.8M232.3 109.6h-2.2M290.5 145.5v1.8M232.3 108.8h-2.2M291.5 145.5v1.8M232.3 108.2h-2.2M292.4 145.5v2.6M232.3 107.6h-3.0M298.5 145.5v1.8M232.3 103.8h-2.2M302.0 145.5v1.8M232.3 101.6h-2.2M304.5 145.5v1.8M232.3 100.0h-2.2M306.5 145.5v1.8M232.3 98.8h-2.2M308.1 145.5v1.8M232.3 97.8h-2.2M309.4 145.5v1.8M232.3 97.0h-2.2M310.6 145.5v1.8M232.3 96.2h-2.2M311.6 145.5v1.8M232.3 95.6h-2.2" stroke="#000" stroke-width="1" fill="none"/>
<path d="M238.1 122.7h.01M241.0 127.9h.01M247.6 129.4h.01M249.7 128.6h.01M246.6 123.0h.01M246.6 121.5h.01M254.6 129.1h.01M240.0 122.4h.01M246.4 123.4h.01M247.9 128.9h.01M246.4 130.0h.01M245.5 128.9h.01M250.1 129.1h.01M251.3 125.1h.01M251.5 129.5h.01M245.6 123.6h.01M248.4 129.0h.01M241.2 126.7h.01M250.1 129.1h.01M248.6 129.1h.01M239.1 128.0h.01M242.7 128.7h.01M250.0 122.8h.01M247.9 122.6h.01M241.2 125.5h.01M241.5 129.1h.01M240.2 126.6h.01M249.0 124.2h.01M249.0 122.2h.01M236.4 124.5h.01M251.3 128.2h.01M250.1 128.9h.01M242.8 128.9h.01M244.5 121.3h.01M242.8 127.5h.01M242.9 125.1h.01M252.0 123.8h.01M241.0 129.7h.01M237.6 126.7h.01M253.3 125.5h.01M252.9 126.1h.01M251.9 124.2h.01M243.3 125.1h.01M252.5 122.3h.01M247.3 122.9h.01M241.6 126.6h.01M243.9 124.8h.01M249.7 124.1h.01M248.4 124.1h.01M249.0 123.8h.01M248.0 123.7h.01M254.6 123.4h.01M243.6 124.8h.01M243.0 124.5h.01M243.8 129.1h.01M251.7 127.7h.01M240.7 127.4h.01M249.7 129.0h.01M241.4 124.6h.01M243.0 128.7h.01M247.8 129.9h.01M245.3 129.0h.01M252.9 127.1h.01M242.8 123.1h.01M250.9 129.4h.01M252.5 128.9h.01M241.9 123.9h.01M246.0 129.6h.01M241.9 128.3h.01M245.0 123.8h.01M246.4 122.8h.01M240.5 127.3h.01M246.7 123.6h.01M252.9 128.9h.01M255.3 126.9h.01M243.8 124.6h.01M235.8 128.5h.01M253.1 126.8h.01M251.1 125.1h.01M248.6 129.9h.01M253.1 125.4h.01M252.4 122.5h.01M245.4 128.9h.01M241.8 121.3h.01M242.6 125.4h.01M243.3 125.0h.01M252.4 126.6h.01M242.3 127.1h.01M254.5 123.8h.01M250.7 129.7h.01M246.5 123.8h.01M244.0 128.3h.01M241.2 126.1h.01M249.2 129.7h.01M251.0 123.0h.01M244.8 123.1h.01M238.9 125.6h.01M237.8 124.7h.01M243.3 129.2h.01M243.2 124.1h.01M240.3 127.2h.01M244.9 128.8h.01M253.0 121.5h.01M241.0 127.0h.01M252.8 128.2h.01M245.6 130.0h.01M244.5 128.8h.01M251.3 122.9h.01M243.0 124.8h.01M252.2 127.8h.01M248.6 129.8h.01M250.8 129.4h.01M238.9 127.9h.01M252.1 125.6h.01M251.9 127.4h.01M253.2 126.2h.01M241.5 129.0h.01M243.3 125.3h.01M244.8 123.7h.01M244.3 129.5h.01M233.7 124.6h.01M238.6 126.3h.01M248.3 122.8h.01M249.3 123.8h.01M243.4 123.4h.01M239.2 125.1h.01M252.5 126.2h.01M245.6 121.6h.01M246.7 123.3h.01M246.0 123.1h.01M251.5 125.4h.01M243.0 127.8h.01M250.4 128.8h.01M246.3 129.1h.01M251.9 125.0h.01M238.9 125.8h.01M239.0 128.3h.01M248.5 123.6h.01M245.8 129.3h.01M241.3 126.2h.01M248.6 128.9h.01M243.3 128.6h.01M240.8 125.5h.01M252.1 129.9h.01M248.1 122.0h.01M243.7 124.3h.01M246.0 129.7h.01M241.7 127.1h.01M241.0 126.0h.01M246.5 122.8h.01M243.9 129.6h.01M246.4 123.5h.01M249.6 122.4h.01M248.5 128.3h.01M243.5 123.7h.01M244.9 123.8h.01M243.9 123.0h.01M241.4 124.0h.01M252.3 125.6h.01M249.2 128.9h.01M252.5 129.4h.01M248.3 123.8h.01M252.1 127.8h.01M247.9 129.9h.01M241.9 127.1h.01M236.4 130.0h.01M242.2 126.1h.01M241.6 126.5h.01M247.1 129.3h.01M254.3 126.4h.01M241.8 129.4h.01M242.5 128.0h.01M252.4 124.9h.01M240.6 123.7h.01M251.5 128.8h.01M242.4 127.1h.01M245.2 129.7h.01M237.1 126.6h.01M249.0 123.0h.01M243.1 129.3h.01M248.7 123.7h.01M253.3 127.4h.01M241.7 127.6h.01M248.0 121.1h.01M249.5 122.6h.01M239.2 126.6h.01M239.9 128.4h.01M245.8 129.1h.01M245.2 129.4h.01M242.5 124.5h.01M255.3 127.1h.01M252.9 123.3h.01M241.5 125.3h.01M247.5 129.7h.01M248.2 123.7h.01M251.5 128.9h.01M251.5 127.6h.01M243.0 124.9h.01M241.6 127.5h.01M239.9 125.3h.01M243.7 128.4h.01M244.9 123.5h.01M244.5 129.7h.01M248.0 128.3h.01M243.5 121.9h.01M253.4 125.0h.01M251.7 124.5h.01M252.2 127.4h.01M241.9 125.7h.01M240.7 122.8h.01M237.6 126.2h.01M247.4 123.7h.01M253.2 127.0h.01M250.7 123.8h.01M242.2 127.7h.01M238.5 126.6h.01M243.2 123.9h.01M245.2 123.0h.01M252.4 122.1h.01M242.0 124.6h.01M248.5 123.4h.01M248.4 123.8h.01M241.2 127.9h.01M237.1 125.2h.01M253.1 126.1h.01M250.1 124.1h.01M242.0 127.5h.01M240.1 125.9h.01M244.4 124.2h.01M246.3 124.1h.01M242.8 126.1h.01M237.8 127.7h.01M253.3 125.3h.01M240.8 124.6h.01M244.9 122.9h.01M242.6 124.6h.01M242.8 124.7h.01M250.2 129.3h.01M244.7 124.0h.01M241.7 130.0h.01M247.9 123.1h.01M241.2 126.1h.01M239.1 127.4h.01M239.8 129.8h.01M237.0 125.1h.01M241.5 124.5h.01M250.7 128.2h.01M252.2 125.2h.01M246.3 123.7h.01M240.2 127.8h.01M247.3 123.4h.01M245.0 122.3h.01M245.0 122.5h.01M252.3 124.2h.01M241.7 126.8h.01M248.2 123.9h.01M247.5 123.1h.01M242.4 129.7h.01M245.2 124.2h.01M240.4 124.9h.01M253.5 126.2h.01M248.0 122.8h.01M242.9 121.6h.01M252.5 126.7h.01M248.1 129.5h.01M245.1 123.8h.01M243.0 125.1h.01M243.1 127.7h.01M247.6 129.0h.01M246.9 129.5h.01M252.7 128.6h.01M248.5 129.4h.01M239.6 126.0h.01M247.2 122.6h.01M244.4 129.2h.01M252.6 127.6h.01M234.7 124.7h.01M241.6 128.9h.01M238.6 125.6h.01M245.7 129.7h.01M253.2 124.9h.01M241.7 128.0h.01M248.2 129.6h.01M237.8 127.8h.01M250.0 122.8h.01M241.3 128.5h.01M253.5 124.8h.01M251.5 124.5h.01M241.4 124.4h.01M245.8 128.7h.01M248.7 129.1h.01M238.0 126.6h.01M245.3 122.8h.01M250.2 123.8h.01M254.4 128.5h.01M247.8 129.8h.01M241.8 123.7h.01M243.5 124.9h.01M245.2 128.8h.01M240.6 128.2h.01M240.0 124.0h.01M239.4 126.4h.01M249.4 122.9h.01M249.3 128.8h.01M240.5 125.2h.01M251.6 124.5h.01M243.0 124.1h.01M243.7 129.4h.01M243.5 124.2h.01M254.5 124.1h.01M234.8 128.4h.01M250.6 129.4h.01M250.4 123.0h.01M246.3 120.1h.01M241.1 129.9h.01M243.2 124.7h.01M249.6 123.9h.01M250.2 129.5h.01M241.1 124.5h.01M250.1 128.6h.01M244.0 129.5h.01M241.7 127.0h.01M249.9 124.1h.01M245.7 123.0h.01M248.5 123.2h.01M243.6 123.9h.01M238.7 128.5h.01M246.5 128.9h.01M241.7 121.8h.01M244.1 124.6h.01M251.7 123.6h.01M250.3 129.1h.01M249.9 123.9h.01M247.5 129.7h.01M244.2 129.7h.01M249.2 122.8h.01M246.8 120.7h.01M251.6 128.1h.01M242.0 128.3h.01M251.9 123.8h.01M241.5 124.3h.01M246.5 129.9h.01M250.4 124.0h.01M242.5 126.2h.01M251.6 128.9h.01M242.0 127.1h.01M247.4 123.5h.01M241.3 125.6h.01M253.3 129.6h.01M249.7 123.7h.01M242.6 123.6h.01M247.8 129.1h.01M246.3 123.1h.01M252.0 126.5h.01M241.1 125.5h.01M240.7 129.1h.01M242.5 129.5h.01M245.8 122.5h.01M254.3 128.4h.01M241.0 125.2h.01M244.9 129.7h.01M252.6 127.8h.01M244.5 124.6h.01M242.9 125.7h.01M253.0 126.3h.01M245.5 128.9h.01M252.9 126.3h.01M248.2 122.9h.01M259.0 128.3h.01M261.4 125.8h.01M255.7 129.0h.01M256.6 128.7h.01M281.9 128.0h.01M266.1 129.3h.01M262.7 129.2h.01M268.2 129.7h.01M255.4 126.4h.01M257.8 126.6h.01M261.6 127.2h.01M281.3 127.7h.01M257.6 129.7h.01M256.9 130.1h.01M256.4 127.5h.01M277.6 125.9h.01M257.9 127.6h.01M256.9 126.7h.01M262.8 128.3h.01M256.8 127.0h.01M265.4 126.1h.01M257.5 127.1h.01M259.1 126.4h.01M262.3 129.7h.01M259.0 126.4h.01M273.1 129.9h.01M264.6 128.1h.01M266.2 126.4h.01M266.5 128.7h.01M274.5 129.1h.01M262.9 129.7h.01M260.9 129.5h.01M264.1 127.8h.01M264.7 129.8h.01M258.3 126.9h.01M255.4 128.5h.01M270.0 128.8h.01M260.0 129.1h.01M259.4 125.0h.01M257.9 125.4h.01M270.4 129.4h.01M260.4 129.4h.01M261.1 129.9h.01M268.2 128.1h.01M257.5 130.0h.01M240.8 118.1h.01M240.6 121.8h.01M236.8 116.4h.01M250.3 119.6h.01M238.9 123.7h.01M236.7 116.9h.01M250.5 123.1h.01M240.7 120.4h.01M241.4 117.2h.01M248.5 118.1h.01M245.2 122.5h.01M239.3 123.2h.01M247.0 121.5h.01M238.2 121.6h.01M248.2 120.4h.01M244.4 123.3h.01M245.2 123.2h.01M247.7 120.9h.01M239.5 117.4h.01M251.9 116.3h.01M248.8 122.5h.01M244.0 121.7h.01M246.7 122.1h.01M237.8 119.3h.01M252.2 122.3h.01M246.9 123.3h.01M248.2 121.0h.01M242.8 122.7h.01M248.4 121.2h.01M252.4 122.6h.01M246.7 122.2h.01M242.1 123.5h.01M238.9 114.3h.01M243.2 121.3h.01M253.5 123.7h.01M250.7 116.1h.01M236.5 122.9h.01M244.2 119.6h.01M252.8 120.2h.01M246.5 122.8h.01M242.2 121.9h.01M243.2 121.8h.01M253.3 123.4h.01M245.9 121.8h.01M248.8 122.2h.01M241.7 121.3h.01M242.1 117.4h.01M244.8 122.0h.01M253.0 123.0h.01M249.8 119.6h.01M243.4 122.5h.01M239.7 123.5h.01M238.5 122.7h.01M237.6 122.8h.01M237.6 119.8h.01M252.5 116.4h.01M246.7 122.4h.01M249.9 117.1h.01M241.1 122.8h.01M246.3 122.2h.01" stroke="#000" stroke-width="1.1" stroke-linecap="round" fill="none" opacity="1"/>
<ellipse cx="247.3" cy="126.5" rx="5.5" ry="2.9" fill="#000" opacity="1.0"/>
<rect x="242.1" y="126.5" width="10.4" height="3.5" rx="1.5" fill="#000"/>
<path d="M289.1 107.5h16.8M297.5 98.7v17.8" stroke="#000" stroke-width="1.9" fill="none"/>
<text x="301.3" y="104.8" font-size="8.4" text-anchor="start" font-weight="normal" >5</text>
<text x="306.7" y="157.7" font-size="8.3" stroke="#000" stroke-width="0.12">10<tspan font-size="5.8" dy="-3">4</tspan></text>
<text transform="translate(226.70000000000002,100.2) rotate(-90)" font-size="8.3" stroke="#000" stroke-width="0.12">10<tspan font-size="5.8" dy="-3">4</tspan></text>
<rect x="333.3" y="95" width="79.69999999999999" height="50.5" fill="none" stroke="#000" stroke-width="1.2"/>
<path d="M355.9 95V145.5M333.3 130.9H413" stroke="#000" stroke-width="1.2" fill="none"/>
<path d="M333.3 145.5v2.6M333.3 145.5h-3.0M339.3 145.5v1.8M333.3 141.7h-2.2M342.8 145.5v1.8M333.3 139.5h-2.2M345.3 145.5v1.8M333.3 137.9h-2.2M347.2 145.5v1.8M333.3 136.7h-2.2M348.8 145.5v1.8M333.3 135.7h-2.2M350.1 145.5v1.8M333.3 134.8h-2.2M351.3 145.5v1.8M333.3 134.1h-2.2M352.3 145.5v1.8M333.3 133.5h-2.2M353.2 145.5v2.6M333.3 132.9h-3.0M359.2 145.5v1.8M333.3 129.1h-2.2M362.7 145.5v1.8M333.3 126.9h-2.2M365.2 145.5v1.8M333.3 125.3h-2.2M367.2 145.5v1.8M333.3 124.1h-2.2M368.7 145.5v1.8M333.3 123.1h-2.2M370.1 145.5v1.8M333.3 122.2h-2.2M371.2 145.5v1.8M333.3 121.5h-2.2M372.2 145.5v1.8M333.3 120.8h-2.2M373.1 145.5v2.6M333.3 120.2h-3.0M379.1 145.5v1.8M333.3 116.4h-2.2M382.7 145.5v1.8M333.3 114.2h-2.2M385.1 145.5v1.8M333.3 112.6h-2.2M387.1 145.5v1.8M333.3 111.4h-2.2M388.7 145.5v1.8M333.3 110.4h-2.2M390.0 145.5v1.8M333.3 109.6h-2.2M391.1 145.5v1.8M333.3 108.8h-2.2M392.2 145.5v1.8M333.3 108.2h-2.2M393.1 145.5v2.6M333.3 107.6h-3.0M399.1 145.5v1.8M333.3 103.8h-2.2M402.6 145.5v1.8M333.3 101.6h-2.2M405.1 145.5v1.8M333.3 100.0h-2.2M407.0 145.5v1.8M333.3 98.8h-2.2M408.6 145.5v1.8M333.3 97.8h-2.2M409.9 145.5v1.8M333.3 97.0h-2.2M411.1 145.5v1.8M333.3 96.2h-2.2M412.1 145.5v1.8M333.3 95.6h-2.2" stroke="#000" stroke-width="1" fill="none"/>
<path d="M336.0 127.5h.01M345.7 123.6h.01M345.3 124.2h.01M345.1 129.1h.01M353.6 125.8h.01M350.9 130.0h.01M345.2 124.5h.01M345.0 126.0h.01M344.7 124.6h.01M346.9 121.8h.01M354.0 126.9h.01M350.9 129.0h.01M343.5 129.7h.01M343.5 125.5h.01M341.8 127.4h.01M346.9 123.3h.01M346.1 123.7h.01M343.0 126.2h.01M345.5 122.8h.01M357.0 121.8h.01M350.4 130.0h.01M355.6 124.2h.01M353.7 126.5h.01M346.8 122.8h.01M352.1 128.4h.01M346.4 121.7h.01M351.9 129.2h.01M353.7 129.4h.01M354.7 126.2h.01M350.5 122.1h.01M352.7 127.8h.01M346.3 123.0h.01M347.0 120.2h.01M354.6 125.8h.01M350.8 123.2h.01M355.2 125.6h.01M354.0 121.8h.01M342.6 123.9h.01M353.5 125.2h.01M354.2 124.6h.01M343.5 124.5h.01M349.7 129.5h.01M344.6 124.5h.01M352.6 127.9h.01M348.9 129.6h.01M344.3 122.5h.01M354.7 126.5h.01M352.7 122.2h.01M352.8 120.0h.01M350.3 122.0h.01M351.9 129.3h.01M343.2 128.6h.01M345.1 127.4h.01M355.0 124.5h.01M352.9 127.6h.01M344.3 125.5h.01M352.6 127.8h.01M353.4 127.2h.01M351.2 130.0h.01M349.2 120.7h.01M353.6 126.5h.01M348.6 128.8h.01M341.8 128.5h.01M342.1 124.4h.01M349.1 130.0h.01M342.5 123.6h.01M348.7 122.4h.01M353.6 129.2h.01M346.5 118.1h.01M348.5 120.3h.01M352.5 122.0h.01M335.9 126.3h.01M353.1 122.0h.01M354.5 127.3h.01M353.4 120.9h.01M355.4 126.5h.01M353.0 127.6h.01M350.0 129.9h.01M356.1 126.6h.01M342.6 126.2h.01M345.1 129.8h.01M353.9 124.8h.01M354.4 122.8h.01M353.8 122.9h.01M345.2 128.3h.01M349.4 122.9h.01M352.9 128.0h.01M346.9 128.7h.01M349.7 122.2h.01M352.9 124.4h.01M354.0 129.2h.01M350.8 122.9h.01M345.8 124.1h.01M354.7 124.9h.01M345.7 128.9h.01M344.6 127.0h.01M352.9 123.9h.01M340.5 127.4h.01M351.2 122.7h.01M354.0 124.5h.01M344.2 120.2h.01M352.1 121.1h.01M356.6 123.6h.01M343.6 128.2h.01M355.7 125.5h.01M351.3 127.4h.01M349.5 129.3h.01M351.2 120.6h.01M345.8 123.2h.01M348.0 129.7h.01M355.5 122.8h.01M344.8 127.2h.01M338.5 126.5h.01M349.5 122.8h.01M350.4 129.7h.01M344.9 124.0h.01M347.4 129.5h.01M344.5 123.6h.01M347.8 121.2h.01M340.6 123.2h.01M353.7 125.0h.01M344.4 126.2h.01M345.9 129.1h.01M347.6 123.2h.01M348.8 121.9h.01M351.1 121.2h.01M351.4 123.3h.01M347.3 130.0h.01M342.1 128.5h.01M343.2 121.7h.01M344.8 128.9h.01M339.5 129.9h.01M353.4 122.1h.01M344.7 125.1h.01M349.8 120.7h.01M346.5 122.7h.01M344.7 123.0h.01M350.6 121.0h.01M350.0 122.3h.01M348.8 130.0h.01M348.5 119.5h.01M346.8 123.1h.01M353.5 121.3h.01M358.2 123.2h.01M354.6 124.8h.01M349.0 129.4h.01M349.9 122.1h.01M338.9 127.2h.01M344.3 127.5h.01M343.6 126.2h.01M353.7 127.9h.01M344.3 125.0h.01M351.5 128.6h.01M349.5 121.8h.01M353.0 121.9h.01M335.4 128.1h.01M354.3 126.0h.01M351.8 128.8h.01M354.8 127.8h.01M351.7 123.3h.01M343.1 121.6h.01M353.7 124.5h.01M349.6 129.8h.01M353.5 120.9h.01M352.8 127.9h.01M346.1 123.6h.01M343.3 128.8h.01M346.5 129.1h.01M348.8 129.8h.01M345.9 120.1h.01M338.6 125.4h.01M344.3 124.6h.01M353.8 124.7h.01M351.3 128.9h.01M343.0 126.1h.01M348.3 122.7h.01M341.7 127.4h.01M353.3 127.2h.01M348.5 121.8h.01M351.2 123.1h.01M343.9 125.0h.01M345.7 124.0h.01M350.2 129.3h.01M345.7 122.9h.01M349.2 129.0h.01M348.5 130.0h.01M345.0 126.4h.01M342.3 126.8h.01M354.0 124.6h.01M345.4 124.6h.01M344.9 128.7h.01M348.1 121.0h.01M354.3 125.3h.01M352.5 124.1h.01M351.6 123.5h.01M355.2 129.9h.01M347.1 128.6h.01M350.4 122.9h.01M348.7 129.5h.01M347.1 128.7h.01M350.9 122.6h.01M342.5 125.3h.01M354.6 128.8h.01M353.5 123.3h.01M352.8 124.2h.01M354.5 124.9h.01M347.8 130.0h.01M341.8 125.2h.01M348.4 122.2h.01M342.8 129.8h.01M350.2 122.2h.01M355.4 129.1h.01M352.5 123.7h.01M355.5 128.1h.01M346.5 123.1h.01M345.0 128.0h.01M344.8 123.2h.01M345.1 123.6h.01M346.1 123.2h.01M351.1 129.1h.01M345.6 128.1h.01M351.6 123.5h.01M344.2 123.9h.01M347.6 121.9h.01M353.2 122.6h.01M347.1 128.8h.01M344.7 125.9h.01M355.7 124.1h.01M342.3 124.7h.01M352.9 121.0h.01M351.6 120.1h.01M354.3 127.5h.01M344.8 128.0h.01M344.2 127.8h.01M350.6 129.7h.01M353.5 121.4h.01M348.9 121.1h.01M344.3 129.5h.01M356.1 126.1h.01M353.2 127.4h.01M353.3 129.0h.01M344.1 127.4h.01M349.6 121.9h.01M352.7 124.1h.01M352.5 128.7h.01M347.9 129.1h.01M343.8 123.6h.01M339.3 127.2h.01M345.6 130.1h.01M347.1 128.3h.01M344.0 125.5h.01M345.2 120.4h.01M349.1 129.9h.01M345.2 129.8h.01M346.8 129.9h.01M355.9 128.3h.01M353.2 127.5h.01M343.1 128.7h.01M352.5 124.0h.01M351.5 129.9h.01M345.9 129.9h.01M350.4 123.0h.01M350.8 129.7h.01M345.3 124.0h.01M345.5 121.7h.01M343.8 127.0h.01M355.0 127.2h.01M348.8 129.2h.01M345.9 124.0h.01M344.6 124.8h.01M355.5 128.6h.01M344.7 123.6h.01M356.1 123.5h.01M348.0 121.6h.01M345.4 127.1h.01M342.5 118.9h.01M344.9 125.4h.01M345.3 129.4h.01M339.8 127.8h.01M343.3 125.4h.01M346.7 121.4h.01M351.4 123.2h.01M353.8 126.5h.01M344.9 125.0h.01M342.8 122.7h.01M348.7 119.9h.01M351.0 123.3h.01M348.5 129.3h.01M344.9 126.9h.01M351.0 123.1h.01M355.6 126.8h.01M353.3 129.8h.01M343.8 127.3h.01M355.2 125.4h.01M346.4 123.9h.01M340.5 127.0h.01M350.6 129.6h.01M351.3 129.5h.01M344.2 122.6h.01M338.5 126.7h.01M349.2 129.6h.01M350.0 121.4h.01M350.1 122.5h.01M353.6 126.0h.01M343.4 128.9h.01M345.1 128.0h.01M350.0 123.0h.01M342.5 125.2h.01M351.2 129.5h.01M351.7 123.3h.01M343.0 127.3h.01M347.3 130.1h.01M355.3 127.1h.01M345.6 124.3h.01M350.9 128.8h.01M342.6 124.4h.01M347.1 129.7h.01M351.1 123.2h.01M340.4 129.2h.01M344.9 124.4h.01M354.5 123.0h.01M352.3 129.8h.01M339.0 121.2h.01M344.2 121.5h.01M346.1 129.6h.01M350.5 122.8h.01M345.9 123.9h.01M343.5 119.4h.01M342.1 127.8h.01M351.0 119.8h.01M353.2 123.9h.01M354.7 125.0h.01M346.4 128.5h.01M352.7 129.8h.01M353.7 126.1h.01M348.1 128.8h.01M353.4 128.3h.01M355.4 124.7h.01M355.8 125.8h.01M341.0 125.3h.01M347.4 119.5h.01M345.0 125.5h.01M353.6 128.9h.01M342.1 125.6h.01M346.3 128.4h.01M354.5 123.2h.01M343.9 124.2h.01M350.4 120.9h.01M349.5 129.3h.01M345.0 126.9h.01M351.1 128.9h.01M344.4 126.7h.01M347.9 123.0h.01M344.6 126.1h.01M349.8 121.8h.01M353.8 123.5h.01M343.3 124.5h.01M351.9 123.3h.01M343.4 121.8h.01M348.5 120.9h.01M351.4 123.5h.01M352.9 122.8h.01M343.0 126.5h.01M344.5 127.1h.01M342.8 126.2h.01M349.6 122.4h.01M349.3 129.2h.01M356.2 125.9h.01M350.4 122.0h.01M350.7 122.5h.01M349.6 121.0h.01M349.4 120.6h.01M344.4 129.3h.01M346.9 123.5h.01M345.9 123.8h.01M353.1 122.6h.01M345.4 127.1h.01M351.5 123.0h.01M352.2 119.1h.01M347.3 122.8h.01M341.5 123.4h.01M352.2 129.9h.01M355.6 128.5h.01M352.8 129.8h.01M352.1 123.5h.01M351.5 123.2h.01M355.3 125.6h.01M348.1 129.1h.01M349.4 120.0h.01M347.4 128.9h.01M356.5 128.5h.01M343.1 127.3h.01M353.4 123.3h.01M353.3 127.2h.01M351.8 122.4h.01M353.0 130.0h.01M343.6 127.6h.01M348.3 120.8h.01M353.0 123.0h.01M346.0 129.2h.01M342.9 126.7h.01M347.6 129.5h.01M344.9 128.0h.01M346.3 129.0h.01M346.1 123.7h.01M349.6 121.5h.01M346.0 129.0h.01M350.1 122.3h.01M341.1 127.0h.01M343.7 127.1h.01M344.9 122.9h.01M345.9 122.3h.01M344.3 126.2h.01M353.7 128.1h.01M359.9 128.4h.01M360.1 128.0h.01M364.6 126.5h.01M360.3 126.9h.01M361.6 128.4h.01M361.0 125.3h.01M361.1 127.1h.01M372.7 123.1h.01M356.8 129.5h.01M364.0 123.2h.01M369.4 125.6h.01M359.7 127.3h.01M366.5 124.8h.01M363.2 126.8h.01M358.3 128.3h.01M366.3 129.9h.01M356.5 125.0h.01M357.6 129.6h.01M366.0 126.4h.01M379.0 127.4h.01M358.7 128.8h.01M358.1 124.8h.01M356.0 130.0h.01M359.3 126.9h.01M358.7 128.8h.01M364.9 128.1h.01M358.7 128.7h.01M363.1 129.1h.01M358.5 126.1h.01M359.5 127.4h.01M357.5 128.9h.01M358.2 129.5h.01M362.3 129.6h.01M358.6 126.9h.01M360.9 127.9h.01M358.2 126.6h.01M362.1 127.2h.01M366.2 128.6h.01M359.8 129.7h.01M363.7 129.7h.01M352.6 118.1h.01M350.7 122.3h.01M345.2 118.5h.01M349.8 121.8h.01M349.7 119.7h.01M339.7 119.4h.01M339.8 120.8h.01M340.9 117.1h.01M342.8 122.1h.01M339.6 121.9h.01M352.9 121.0h.01M350.3 119.7h.01M343.2 119.5h.01M343.5 121.5h.01M352.4 115.2h.01M351.6 115.7h.01M351.1 122.3h.01M354.4 122.2h.01M350.0 114.7h.01M347.8 122.4h.01M340.6 122.5h.01M352.3 121.6h.01M340.2 115.9h.01M354.3 118.6h.01M350.9 120.0h.01M353.9 114.9h.01M347.6 119.3h.01M351.4 121.2h.01M351.5 117.1h.01M344.2 113.3h.01M353.9 122.4h.01M347.3 116.0h.01M352.3 120.4h.01M352.7 115.6h.01M343.0 120.3h.01M354.5 122.0h.01M346.5 120.6h.01M342.9 119.2h.01M341.7 122.7h.01M343.7 120.5h.01M353.7 117.5h.01M345.2 120.3h.01M350.9 122.2h.01M351.9 121.1h.01M348.4 118.1h.01M341.7 119.9h.01M340.3 116.9h.01M352.8 121.3h.01M345.4 119.0h.01M348.7 118.6h.01M354.1 122.1h.01M345.1 122.7h.01M344.3 119.5h.01M346.9 112.4h.01M339.4 115.0h.01M347.5 117.1h.01M350.6 119.8h.01M346.4 114.7h.01M355.4 113.1h.01M349.2 121.6h.01" stroke="#000" stroke-width="1.1" stroke-linecap="round" fill="none" opacity="1"/>
<ellipse cx="349.3" cy="126" rx="5.0" ry="3.4" fill="#000" opacity="1.0"/>
<rect x="344.5" y="126.0" width="9.5" height="4.0" rx="1.5" fill="#000"/>
<path d="M389.6 107.5h16.8M398 98.7v17.8" stroke="#000" stroke-width="1.9" fill="none"/>
<text x="401.8" y="104.8" font-size="8.4" text-anchor="start" font-weight="normal" >5</text>
<text x="407.2" y="157.7" font-size="8.3" stroke="#000" stroke-width="0.12">10<tspan font-size="5.8" dy="-3">4</tspan></text>
<text transform="translate(327.7,100.2) rotate(-90)" font-size="8.3" stroke="#000" stroke-width="0.12">10<tspan font-size="5.8" dy="-3">4</tspan></text>
<text x="144" y="24" font-size="12" text-anchor="start" font-weight="normal" >untreated</text>
<text x="248.3" y="24" font-size="12" text-anchor="start" font-weight="normal" >+ mIgG1</text>
<text x="336.3" y="24" font-size="11.9" text-anchor="start" font-weight="normal" >+ anti-CD137</text>
<text x="416" y="58" font-size="12.3" text-anchor="start" font-weight="normal" >CD137L<tspan font-size="7.5" dy="-5.3">+</tspan><tspan dy="5.3" dx="0.8"> (UPN 61)</tspan></text>
<text x="416" y="125" font-size="12.3" text-anchor="start" font-weight="normal" >CD137L<tspan font-size="7.5" dy="-5.3">−</tspan><tspan dy="5.3" dx="0.8"> (UPN 45)</tspan></text>
<text x="-1.2" y="208.2" font-size="18" text-anchor="start" font-weight="bold" >B</text>
<text transform="translate(10.2,268.5) rotate(-90)" font-size="12.2" text-anchor="middle" font-weight="normal">Lysis [%]</text>
<path d="M27.4 213V318.8H155.5" stroke="#000" stroke-width="1.1" fill="none"/>
<path d="M24.9 213.0h2.5" stroke="#000" stroke-width="1"/>
<text x="25.099999999999998" y="216.4" font-size="8.9" text-anchor="end" font-weight="normal" >50</text>
<path d="M24.9 265.9h2.5" stroke="#000" stroke-width="1"/>
<text x="25.099999999999998" y="269.29999999999995" font-size="8.9" text-anchor="end" font-weight="normal" >25</text>
<path d="M24.9 318.8h2.5" stroke="#000" stroke-width="1"/>
<text x="25.099999999999998" y="322.2" font-size="8.9" text-anchor="end" font-weight="normal" >0</text>
<path d="M69.9 318.8v-2.2" stroke="#000" stroke-width="1"/>
<path d="M112.5 318.8v-2.2" stroke="#000" stroke-width="1"/>
<path d="M155.10000000000002 318.8v-2.2" stroke="#000" stroke-width="1"/>
<text x="48.6" y="327.1" font-size="8.9" text-anchor="middle" font-weight="normal" >10:1</text>
<text x="91.2" y="327.1" font-size="8.9" text-anchor="middle" font-weight="normal" >20:1</text>
<text x="133.8" y="327.1" font-size="8.9" text-anchor="middle" font-weight="normal" >40:1</text>
<text x="29.4" y="223" font-size="9.2" text-anchor="start" font-weight="normal" >M0, CD137L<tspan font-size="7" dy="-3.5">+</tspan><tspan dy="3.5"> (UPN 3)</tspan></text>
<text x="91.4" y="342.7" font-size="12" text-anchor="middle" font-weight="normal" >E:T Ratio</text>
<path d="M48.6 292L91.2 266L133.8 233" stroke="#000" stroke-width="1.4" stroke-dasharray="4 2.2" fill="none"/>
<path d="M48.6 311L91.2 292L133.8 256" stroke="#000" stroke-width="1.8" fill="none"/>
<path d="M91.2 260.5V270M89.9 260.5h2.6M89.9 270h2.6" stroke="#000" stroke-width="0.9" fill="none"/>
<path d="M133.8 250.5V260M132.5 250.5h2.6M132.5 260h2.6" stroke="#000" stroke-width="0.9" fill="none"/>
<path d="M48.6 307.5V314.5M47.300000000000004 307.5h2.6M47.300000000000004 314.5h2.6" stroke="#000" stroke-width="0.9" fill="none"/>
<path d="M48.6 288.3L52.300000000000004 295.145H44.9z" fill="#000"/>
<path d="M91.2 262.3L94.9 269.145H87.5z" fill="#000"/>
<path d="M133.8 229.3L137.5 236.145H130.10000000000002z" fill="#000"/>
<path d="M48.6 307.4L52.2 311L48.6 314.6L45.0 311z" fill="#000"/>
<rect x="46.0" y="308.4" width="5.2" height="5.2" fill="#000"/>
<path d="M91.2 288.4L94.8 292L91.2 295.6L87.60000000000001 292z" fill="#000"/>
<rect x="88.60000000000001" y="289.4" width="5.2" height="5.2" fill="#000"/>
<path d="M133.8 252.4L137.4 256L133.8 259.6L130.20000000000002 256z" fill="#000"/>
<rect x="131.20000000000002" y="253.4" width="5.2" height="5.2" fill="#000"/>
<text x="48.6" y="290.3" font-size="16" text-anchor="middle" font-weight="normal" >*</text>
<text x="91.2" y="262.8" font-size="16" text-anchor="middle" font-weight="normal" >*</text>
<text x="133.8" y="230.8" font-size="16" text-anchor="middle" font-weight="normal" >*</text>
<path d="M177.7 213V318.8H305" stroke="#000" stroke-width="1.1" fill="none"/>
<path d="M175.2 213.0h2.5" stroke="#000" stroke-width="1"/>
<text x="175.39999999999998" y="216.4" font-size="8.9" text-anchor="end" font-weight="normal" >30</text>
<path d="M175.2 265.9h2.5" stroke="#000" stroke-width="1"/>
<text x="175.39999999999998" y="269.29999999999995" font-size="8.9" text-anchor="end" font-weight="normal" >15</text>
<path d="M175.2 318.8h2.5" stroke="#000" stroke-width="1"/>
<text x="175.39999999999998" y="322.2" font-size="8.9" text-anchor="end" font-weight="normal" >0</text>
<path d="M220.75 318.8v-2.2" stroke="#000" stroke-width="1"/>
<path d="M263.25 318.8v-2.2" stroke="#000" stroke-width="1"/>
<path d="M305 318.8v-2.2" stroke="#000" stroke-width="1"/>
<text x="199.5" y="327.1" font-size="8.9" text-anchor="middle" font-weight="normal" >5:1</text>
<text x="242" y="327.1" font-size="8.9" text-anchor="middle" font-weight="normal" >10:1</text>
<text x="284.5" y="327.1" font-size="8.9" text-anchor="middle" font-weight="normal" >20:1</text>
<text x="181.3" y="223" font-size="9.2" text-anchor="start" font-weight="normal" >M4, CD137L<tspan font-size="7" dy="-3.5">+</tspan><tspan dy="3.5"> (UPN 44)</tspan></text>
<text x="241" y="342.7" font-size="12" text-anchor="middle" font-weight="normal" >E:T Ratio</text>
<path d="M199.5 304.5L242 260.5L284.5 229" stroke="#000" stroke-width="1.4" stroke-dasharray="4 2.2" fill="none"/>
<path d="M199.5 312.5L242 293L284.5 245" stroke="#000" stroke-width="1.5" fill="none"/>
<path d="M199.5 315.5L242 307L284.5 252" stroke="#000" stroke-width="1.5" fill="none"/>
<path d="M199.5 299V309M198.2 299h2.6M198.2 309h2.6" stroke="#000" stroke-width="0.9" fill="none"/>
<path d="M242 255V264M240.7 255h2.6M240.7 264h2.6" stroke="#000" stroke-width="0.9" fill="none"/>
<path d="M284.5 236V248M283.2 236h2.6M283.2 248h2.6" stroke="#000" stroke-width="0.9" fill="none"/>
<path d="M199.5 300.8L203.2 307.645H195.8z" fill="#000"/>
<path d="M242 256.8L245.7 263.645H238.3z" fill="#000"/>
<path d="M284.5 225.3L288.2 232.145H280.8z" fill="#000"/>
<path d="M199.5 309.1L202.9 312.5L199.5 315.9L196.1 312.5z" fill="#000"/>
<path d="M242 289.6L245.4 293L242 296.4L238.6 293z" fill="#000"/>
<path d="M284.5 241.6L287.9 245L284.5 248.4L281.1 245z" fill="#000"/>
<rect x="196.8" y="312.8" width="5.4" height="5.4" fill="#000"/>
<rect x="239.3" y="304.3" width="5.4" height="5.4" fill="#000"/>
<rect x="281.8" y="249.3" width="5.4" height="5.4" fill="#000"/>
<text x="242" y="258.8" font-size="16" text-anchor="middle" font-weight="normal" >*</text>
<text x="284.5" y="228.8" font-size="16" text-anchor="middle" font-weight="normal" >*</text>
<path d="M330.6 213V318.8H457.5" stroke="#000" stroke-width="1.1" fill="none"/>
<path d="M328.1 213.0h2.5" stroke="#000" stroke-width="1"/>
<text x="328.3" y="216.4" font-size="8.9" text-anchor="end" font-weight="normal" >40</text>
<path d="M328.1 265.9h2.5" stroke="#000" stroke-width="1"/>
<text x="328.3" y="269.29999999999995" font-size="8.9" text-anchor="end" font-weight="normal" >20</text>
<path d="M328.1 318.8h2.5" stroke="#000" stroke-width="1"/>
<text x="328.3" y="322.2" font-size="8.9" text-anchor="end" font-weight="normal" >0</text>
<path d="M373.25 318.8v-2.2" stroke="#000" stroke-width="1"/>
<path d="M415.75 318.8v-2.2" stroke="#000" stroke-width="1"/>
<path d="M457.5 318.8v-2.2" stroke="#000" stroke-width="1"/>
<text x="352" y="327.1" font-size="8.9" text-anchor="middle" font-weight="normal" >10:1</text>
<text x="394.5" y="327.1" font-size="8.9" text-anchor="middle" font-weight="normal" >20:1</text>
<text x="436.5" y="327.1" font-size="8.9" text-anchor="middle" font-weight="normal" >40:1</text>
<text x="332.8" y="223" font-size="9.2" text-anchor="start" font-weight="normal" >M5, CD137L<tspan font-size="7" dy="-3.5">−</tspan><tspan dy="3.5"> (UPN 60)</tspan></text>
<text x="393" y="342.7" font-size="12" text-anchor="middle" font-weight="normal" >E:T Ratio</text>
<path d="M352 289.5L394.5 267L436.5 241" stroke="#000" stroke-width="1.4" stroke-dasharray="4 2.2" fill="none"/>
<path d="M352 282.8L394.5 259.6L436.5 241.5" stroke="#000" stroke-width="1.25" fill="none"/>
<path d="M352 286.2L394.5 263L436.5 246.8" stroke="#000" stroke-width="1.25" fill="none"/>
<path d="M352 274.5V296.5M350.7 274.5h2.6M350.7 296.5h2.6" stroke="#000" stroke-width="0.9" fill="none"/>
<path d="M394.5 257V270M393.2 257h2.6M393.2 270h2.6" stroke="#000" stroke-width="0.9" fill="none"/>
<path d="M436.5 229V252.5M435.2 229h2.6M435.2 252.5h2.6" stroke="#000" stroke-width="0.9" fill="none"/>
<path d="M352 285.8L355.7 292.645H348.3z" fill="#000"/>
<path d="M394.5 263.3L398.2 270.145H390.8z" fill="#000"/>
<path d="M436.5 237.3L440.2 244.145H432.8z" fill="#000"/>
<path d="M352 279.40000000000003L355.4 282.8L352 286.2L348.6 282.8z" fill="#000"/>
<path d="M394.5 256.20000000000005L397.9 259.6L394.5 263.0L391.1 259.6z" fill="#000"/>
<path d="M436.5 238.1L439.9 241.5L436.5 244.9L433.1 241.5z" fill="#000"/>
<rect x="349.3" y="283.5" width="5.4" height="5.4" fill="#000"/>
<rect x="391.8" y="260.3" width="5.4" height="5.4" fill="#000"/>
<rect x="433.8" y="244.10000000000002" width="5.4" height="5.4" fill="#000"/>
<text x="0.3" y="376.3" font-size="17.8" text-anchor="start" font-weight="bold" >C</text>
<text transform="translate(10.7,429) rotate(-90)" font-size="12" text-anchor="middle" font-weight="normal">IFN-γ [ng/mL]</text>
<path d="M28.3 381V483.8H153.8" stroke="#000" stroke-width="1.1" fill="none"/>
<path d="M25.8 381.0h2.5" stroke="#000" stroke-width="1"/>
<text x="25.7" y="384.7" font-size="8.9" text-anchor="end" font-weight="normal" >4.5</text>
<path d="M25.8 415.26666666666665h2.5" stroke="#000" stroke-width="1"/>
<text x="25.7" y="418.96666666666664" font-size="8.9" text-anchor="end" font-weight="normal" >3</text>
<path d="M25.8 449.53333333333336h2.5" stroke="#000" stroke-width="1"/>
<text x="25.7" y="453.23333333333335" font-size="8.9" text-anchor="end" font-weight="normal" >1.5</text>
<path d="M25.8 483.8h2.5" stroke="#000" stroke-width="1"/>
<text x="25.7" y="487.5" font-size="8.9" text-anchor="end" font-weight="normal" >0</text>
<path d="M34.5 483.1h9.1" stroke="#000" stroke-width="0.9"/>
<path d="M49.449999999999996 483.8v1.3" stroke="#000" stroke-width="0.8"/>
<text transform="translate(41.949999999999996,487.40000000000003) rotate(-90)" font-size="8.5" text-anchor="end">untreated</text>
<path d="M55.2 483.1h9.1" stroke="#000" stroke-width="0.9"/>
<path d="M70.15 483.8v1.3" stroke="#000" stroke-width="0.8"/>
<text transform="translate(62.65,487.40000000000003) rotate(-90)" font-size="8.5" text-anchor="end">mIgG1</text>
<path d="M76 483.1h9.1" stroke="#000" stroke-width="0.9"/>
<path d="M90.95 483.8v1.3" stroke="#000" stroke-width="0.8"/>
<text transform="translate(83.45,487.40000000000003) rotate(-90)" font-size="8.5" text-anchor="end">anti-CD137</text>
<rect x="96.7" y="438" width="9.1" height="46.20" fill="#000"/>
<path d="M101.25 438v-1.5M99.95 436.5h2.6" stroke="#000" stroke-width="0.9" fill="none"/>
<path d="M111.65 483.8v1.3" stroke="#000" stroke-width="0.8"/>
<text transform="translate(104.15,487.40000000000003) rotate(-90)" font-size="8.5" text-anchor="end">untreated</text>
<rect x="117.5" y="430.8" width="9.1" height="53.40" fill="#000"/>
<path d="M122.05 430.8v-1M120.75 429.8h2.6" stroke="#000" stroke-width="0.9" fill="none"/>
<path d="M132.45 483.8v1.3" stroke="#000" stroke-width="0.8"/>
<text transform="translate(124.95,487.40000000000003) rotate(-90)" font-size="8.5" text-anchor="end">mIgG1</text>
<rect x="138.2" y="390" width="9.1" height="94.20" fill="#000"/>
<path d="M142.75 390v-3M141.45 387h2.6" stroke="#000" stroke-width="0.9" fill="none"/>
<path d="M153.15 483.8v1.3" stroke="#000" stroke-width="0.8"/>
<text transform="translate(145.65,487.40000000000003) rotate(-90)" font-size="8.5" text-anchor="end">anti-CD137</text>
<path d="M30.7 542.3H87.3M94.6 542.3H151.5" stroke="#000" stroke-width="1.9"/>
<text x="60.0" y="554" font-size="10.7" text-anchor="middle" font-weight="normal" >NK alone</text>
<text x="122.05" y="554" font-size="10.7" text-anchor="middle" font-weight="normal" >M5, CD137L<tspan font-size="7" dy="-3.5">+</tspan></text>
<text x="123.05" y="567" font-size="10.7" text-anchor="middle" font-weight="normal" >(UPN 56)</text>
<text x="143" y="390.625" font-size="17.5" text-anchor="middle" font-weight="bold" >*</text>
<path d="M179.5 381V483.8H305" stroke="#000" stroke-width="1.1" fill="none"/>
<path d="M177.0 381.0h2.5" stroke="#000" stroke-width="1"/>
<text x="176.9" y="384.7" font-size="8.9" text-anchor="end" font-weight="normal" >3</text>
<path d="M177.0 415.26666666666665h2.5" stroke="#000" stroke-width="1"/>
<text x="176.9" y="418.96666666666664" font-size="8.9" text-anchor="end" font-weight="normal" >2</text>
<path d="M177.0 449.53333333333336h2.5" stroke="#000" stroke-width="1"/>
<text x="176.9" y="453.23333333333335" font-size="8.9" text-anchor="end" font-weight="normal" >1</text>
<path d="M177.0 483.8h2.5" stroke="#000" stroke-width="1"/>
<text x="176.9" y="487.5" font-size="8.9" text-anchor="end" font-weight="normal" >0</text>
<rect x="185" y="476" width="9.1" height="8.20" fill="#000"/>
<path d="M189.55 476v-0.6M188.25 475.4h2.6" stroke="#000" stroke-width="0.9" fill="none"/>
<path d="M199.95000000000002 483.8v1.3" stroke="#000" stroke-width="0.8"/>
<text transform="translate(192.45000000000002,487.40000000000003) rotate(-90)" font-size="8.5" text-anchor="end">untreated</text>
<rect x="205.8" y="476" width="9.1" height="8.20" fill="#000"/>
<path d="M210.35000000000002 476v-0.8M209.05 475.2h2.6" stroke="#000" stroke-width="0.9" fill="none"/>
<path d="M220.75000000000003 483.8v1.3" stroke="#000" stroke-width="0.8"/>
<text transform="translate(213.25000000000003,487.40000000000003) rotate(-90)" font-size="8.5" text-anchor="end">mIgG1</text>
<rect x="226.6" y="478" width="9.1" height="6.20" fill="#000"/>
<path d="M231.15 478v-0.6M229.85 477.4h2.6" stroke="#000" stroke-width="0.9" fill="none"/>
<path d="M241.55 483.8v1.3" stroke="#000" stroke-width="0.8"/>
<text transform="translate(234.05,487.40000000000003) rotate(-90)" font-size="8.5" text-anchor="end">anti-CD137</text>
<rect x="247.5" y="461" width="9.1" height="23.20" fill="#000"/>
<path d="M252.05 461v-0.8M250.75 460.2h2.6" stroke="#000" stroke-width="0.9" fill="none"/>
<path d="M262.45 483.8v1.3" stroke="#000" stroke-width="0.8"/>
<text transform="translate(254.95000000000002,487.40000000000003) rotate(-90)" font-size="8.5" text-anchor="end">untreated</text>
<rect x="268.3" y="458" width="9.1" height="26.20" fill="#000"/>
<path d="M272.85 458v-0.8M271.55 457.2h2.6" stroke="#000" stroke-width="0.9" fill="none"/>
<path d="M283.25 483.8v1.3" stroke="#000" stroke-width="0.8"/>
<text transform="translate(275.75,487.40000000000003) rotate(-90)" font-size="8.5" text-anchor="end">mIgG1</text>
<rect x="289.2" y="410" width="9.1" height="74.20" fill="#000"/>
<path d="M293.75 410v-8M292.45 402h2.6" stroke="#000" stroke-width="0.9" fill="none"/>
<path d="M304.15 483.8v1.3" stroke="#000" stroke-width="0.8"/>
<text transform="translate(296.65,487.40000000000003) rotate(-90)" font-size="8.5" text-anchor="end">anti-CD137</text>
<path d="M181 542.3H238M245 542.3H302" stroke="#000" stroke-width="1.9"/>
<text x="210.5" y="554" font-size="10.7" text-anchor="middle" font-weight="normal" >NK alone</text>
<text x="272.5" y="554" font-size="10.7" text-anchor="middle" font-weight="normal" >M5, CD137L<tspan font-size="7" dy="-3.5">+</tspan></text>
<text x="273.5" y="567" font-size="10.7" text-anchor="middle" font-weight="normal" >(UPN 61)</text>
<text x="293.5" y="407.125" font-size="17.5" text-anchor="middle" font-weight="bold" >*</text>
<path d="M330.7 381V483.8H455.8" stroke="#000" stroke-width="1.1" fill="none"/>
<path d="M328.2 381.0h2.5" stroke="#000" stroke-width="1"/>
<text x="328.09999999999997" y="384.7" font-size="8.9" text-anchor="end" font-weight="normal" >4.5</text>
<path d="M328.2 415.26666666666665h2.5" stroke="#000" stroke-width="1"/>
<text x="328.09999999999997" y="418.96666666666664" font-size="8.9" text-anchor="end" font-weight="normal" >3</text>
<path d="M328.2 449.53333333333336h2.5" stroke="#000" stroke-width="1"/>
<text x="328.09999999999997" y="453.23333333333335" font-size="8.9" text-anchor="end" font-weight="normal" >1.5</text>
<path d="M328.2 483.8h2.5" stroke="#000" stroke-width="1"/>
<text x="328.09999999999997" y="487.5" font-size="8.9" text-anchor="end" font-weight="normal" >0</text>
<rect x="336.7" y="468.8" width="9.1" height="15.40" fill="#000"/>
<path d="M341.25 468.8v-0.5M339.95 468.3h2.6" stroke="#000" stroke-width="0.9" fill="none"/>
<path d="M351.65 483.8v1.3" stroke="#000" stroke-width="0.8"/>
<text transform="translate(344.15,487.40000000000003) rotate(-90)" font-size="8.5" text-anchor="end">untreated</text>
<rect x="357.5" y="471" width="9.1" height="13.20" fill="#000"/>
<path d="M362.05 471v-0.6M360.75 470.4h2.6" stroke="#000" stroke-width="0.9" fill="none"/>
<path d="M372.45 483.8v1.3" stroke="#000" stroke-width="0.8"/>
<text transform="translate(364.95,487.40000000000003) rotate(-90)" font-size="8.5" text-anchor="end">mIgG1</text>
<rect x="378.3" y="468.8" width="9.1" height="15.40" fill="#000"/>
<path d="M382.85 468.8v-0.8M381.55 468.0h2.6" stroke="#000" stroke-width="0.9" fill="none"/>
<path d="M393.25 483.8v1.3" stroke="#000" stroke-width="0.8"/>
<text transform="translate(385.75,487.40000000000003) rotate(-90)" font-size="8.5" text-anchor="end">anti-CD137</text>
<rect x="399.2" y="394" width="9.1" height="90.20" fill="#000"/>
<path d="M403.75 394v-2.5M402.45 391.5h2.6" stroke="#000" stroke-width="0.9" fill="none"/>
<path d="M414.15 483.8v1.3" stroke="#000" stroke-width="0.8"/>
<text transform="translate(406.65,487.40000000000003) rotate(-90)" font-size="8.5" text-anchor="end">untreated</text>
<rect x="420" y="394" width="9.1" height="90.20" fill="#000"/>
<path d="M424.55 394v-0.3M423.25 393.7h2.6" stroke="#000" stroke-width="0.9" fill="none"/>
<path d="M434.95 483.8v1.3" stroke="#000" stroke-width="0.8"/>
<text transform="translate(427.45,487.40000000000003) rotate(-90)" font-size="8.5" text-anchor="end">mIgG1</text>
<rect x="440.8" y="390.8" width="9.1" height="93.40" fill="#000"/>
<path d="M445.35 390.8v-0.8M444.05 390.0h2.6" stroke="#000" stroke-width="0.9" fill="none"/>
<path d="M455.75 483.8v1.3" stroke="#000" stroke-width="0.8"/>
<text transform="translate(448.25,487.40000000000003) rotate(-90)" font-size="8.5" text-anchor="end">anti-CD137</text>
<path d="M333 542.3H389.4M396.6 542.3H453.8" stroke="#000" stroke-width="1.9"/>
<text x="362.2" y="554" font-size="10.7" text-anchor="middle" font-weight="normal" >NK alone</text>
<text x="424.20000000000005" y="554" font-size="10.7" text-anchor="middle" font-weight="normal" >M2, CD137L<tspan font-size="9" dy="-3">-</tspan></text>
<text x="425.20000000000005" y="567" font-size="10.7" text-anchor="middle" font-weight="normal" >(UPN 12)</text>
</svg>
</body></html>
